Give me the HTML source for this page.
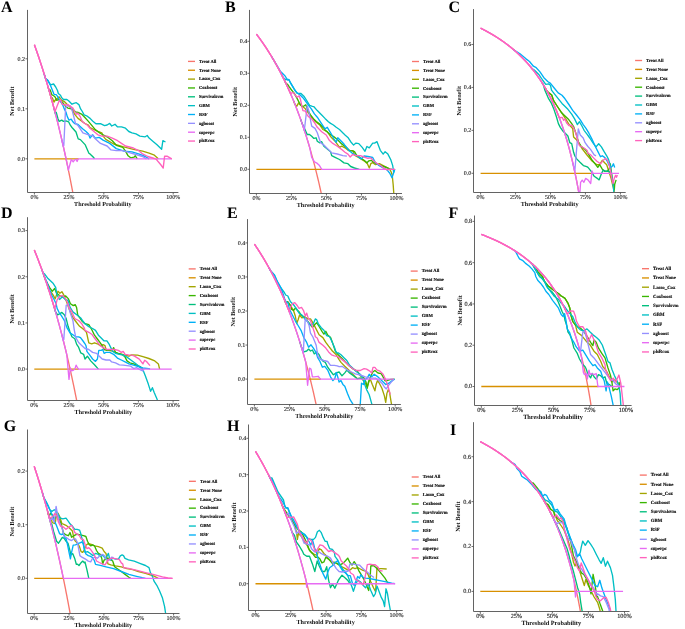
<!DOCTYPE html>
<html><head><meta charset="utf-8"><style>
html,body{margin:0;padding:0;background:#fff;}
svg{display:block;text-rendering:geometricPrecision;}
svg{will-change:transform;}
.pl{font-family:"Liberation Serif",serif;font-weight:bold;font-size:16px;fill:#000;}
.tl{font-family:"Liberation Serif",serif;fill:#222;stroke:#222;stroke-width:0.12px;}
.at{font-family:"Liberation Serif",serif;font-weight:bold;font-size:1.017em;fill:#111;}
.lg{font-family:"Liberation Serif",serif;font-weight:bold;font-size:4.6px;fill:#111;stroke:#111;stroke-width:0.15px;}
.ax{fill:none;stroke:#636363;stroke-width:1;stroke-linejoin:miter;stroke-linecap:butt;}
.tk{fill:none;stroke:#4a4a4a;stroke-width:0.8;}
</style></head><body>
<svg width="685" height="629" viewBox="0 0 685 629">
<rect width="685" height="629" fill="#fff"/>
<clipPath id="cA"><rect x="27.2" y="4.9" width="156.2" height="187.3"/></clipPath>
<text x="1" y="11.8" class="pl">A</text>
<g clip-path="url(#cA)">
<polyline points="34.4,44.8 34.88,46.15 35.37,47.51 35.85,48.88 36.34,50.26 36.82,51.65 37.3,53.05 37.79,54.46 38.27,55.88 38.76,57.31 39.24,58.75 39.73,60.2 40.21,61.66 40.69,63.13 41.18,64.62 41.66,66.11 42.15,67.62 42.63,69.13 43.11,70.66 43.6,72.2 44.08,73.75 44.57,75.31 45.05,76.88 45.54,78.47 46.02,80.07 46.5,81.68 46.99,83.3 47.47,84.93 47.96,86.58 48.44,88.24 48.92,89.91 49.41,91.6 49.89,93.3 50.38,95.01 50.86,96.74 51.34,98.48 51.83,100.23 52.31,102 52.8,103.78 53.28,105.58 53.77,107.39 54.25,109.21 54.73,111.05 55.22,112.91 55.7,114.78 56.19,116.67 56.67,118.57 57.15,120.49 57.64,122.42 58.12,124.37 58.61,126.34 59.09,128.32 59.58,130.32 60.06,132.34 60.54,134.38 61.03,136.43 61.51,138.5 62,140.59 62.48,142.7 62.96,144.82 63.45,146.96 63.93,149.13 64.42,151.31 64.9,153.51 65.39,155.73 65.87,157.97 66.35,160.24 66.84,162.52 67.32,164.82 67.81,167.15 68.29,169.49 68.77,171.86 69.26,174.25 69.74,176.66 70.23,179.1 70.71,181.55 71.19,184.04 71.68,186.54 72.16,189.07 72.65,191.62 73.13,194.2" fill="none" stroke="#F8766D" stroke-width="1.35" stroke-linejoin="round" />
<polyline points="34.4,158.8 78.7,158.8" fill="none" stroke="#D89000" stroke-width="1.35" stroke-linejoin="round" />
<polyline points="50,93.68 50.75,96.34 51.5,99.04 52.3,97.8 54,102 55.7,99.5 57.5,98.2 59.2,96.9 60.9,99.5 64.3,101.6 67.8,105 71.2,108.1 74.6,114.1 78,118.4 81.5,120.9 84.9,123.5 88.4,125.2 90,127.6 97.9,131.5 101.8,132.8 103.1,136.1 105.8,139.4 113.7,144 122.8,146.6 133.4,149.3 142.6,151.2 149.1,153.2 154.4,155.2 158.3,158.8" fill="none" stroke="#A3A500" stroke-width="1.35" stroke-linejoin="round" />
<polyline points="48,86.73 48.75,89.31 49.5,91.92 50.2,90 51.9,94.7 54,96 55.3,97.3 56.6,100.3 58.7,99.5 60.5,100.3 63,102.9 65.2,105.9 67.8,108.1 70.3,108.5 72.9,109.3 75.5,111.9 78,112.3 81.5,114.1 84.9,117.5 88.4,121.4 90.9,124.4 95.3,129.6 100.5,133.5 107.1,136.8 112.3,140.7 116.3,145.3 122.8,147.3 125.5,151.2 128.1,155.8 130.7,157.8 134,157.2 135.3,155.8 137.3,158.8" fill="none" stroke="#39B600" stroke-width="1.35" stroke-linejoin="round" />
<polyline points="54,108.27 54.75,111.12 55.5,114 56.2,112.3 57.9,118.4 59.2,121.4 61.7,120.1 63.5,121.4 66,120.9 68.6,121.8 70.3,125.2 72,127.5 76,132 78.2,138.9 80.4,139.6 85.3,144.9 88.9,153.2 90,153.9 93.9,157.8 94.5,158.8" fill="none" stroke="#00BF7D" stroke-width="1.35" stroke-linejoin="round" />
<polyline points="44,73.48 44.75,75.9 45.5,78.35 48,80.6 50.6,84.9 53.6,84 55.7,87 57.5,90.5 58.3,93.5 60.5,95.2 61.7,97.8 63.5,99.5 66.9,99.5 68.6,100.8 72,104.2 73.8,103.3 76.3,102.7 78.9,104.6 80.6,108.9 82.3,111.5 84.1,114.9 86.6,115.8 90.1,118.4 92.6,121 95.9,123.7 100.5,123.7 104.5,125.6 107.1,125 109.7,123.4 111.7,126 115,124.3 117.6,126.9 121.5,126.9 125.5,128.2 128.8,131.5 132,132.8 136,133.9 139.9,136.1 145.2,136.8 147.2,135.5 149.1,138.1 153.1,141.4 157,144.7 161.6,149.3 162.9,140.7 165.5,142" fill="none" stroke="#00BFC4" stroke-width="1.35" stroke-linejoin="round" />
<polyline points="44.3,74.45 45.05,76.88 45.8,79.34 47.5,80 50.6,85.7 52.3,90 54,94.3 56.2,94.7 57.9,96.9 59.2,99.5 60.5,101.6 62.6,104.6 64.3,108.9 66,112.3 67.3,116.6 69,120.1 71.2,119.2 72.9,121.8 74.6,123.5 78,124.4 82.6,128.7 86,131.5 88.5,134 90,138.1 92.6,134.8 95.3,138.1 99.2,137.4 103.1,140.1 109.7,143.4 116.3,148.6 124.2,151.2 132,151.9 138.6,153.9 145.2,156.5 149.1,158.8" fill="none" stroke="#00B0F6" stroke-width="1.35" stroke-linejoin="round" />
<polyline points="61.8,139.74 62.55,143 63.3,146.31 63.8,145.5 65.6,107.9 66.5,106.3 67.8,105.5 70.3,105.9 72,109.8 73.8,116.6 75.5,123.5 78.2,125.8 82.9,132.9 90.1,135.3 92.6,135.5 95.3,138.8 100.5,143.4 107.1,146 111,149.9 116.3,150.6 122.8,150.6 129.4,152.6 136,154.5 142.6,156.5 146.5,158.8" fill="none" stroke="#9590FF" stroke-width="1.35" stroke-linejoin="round" />
<polyline points="34.4,44.8 35.53,47.98 36.67,51.21 37.8,54.49 38.93,57.83 40.07,61.23 41.2,64.68 42.33,68.2 43.47,71.78 44.6,75.42 45.73,79.12 46.87,82.89 48,86.73 49.13,90.64 50.27,94.62 51.4,98.68 52.53,102.81 53.67,107.02 54.8,111.31 55.93,115.68 57.07,120.14 58.2,124.69 59.33,129.32 60.47,134.05 61.6,138.88 62.73,143.8 63.87,148.83 65,153.96 66.13,159.21 67.27,164.56 68.4,170.03 71.3,159.5 73.2,161.9 74.5,160 76,159.3 77.1,161.5 78.2,158.8 171.81,158.8" fill="none" stroke="#E76BF3" stroke-width="1.35" stroke-linejoin="round" />
<polyline points="34.4,44.8 35.08,46.71 35.77,48.64 36.45,50.59 37.13,52.55 37.82,54.54 38.5,56.55 39.18,58.58 39.87,60.63 40.55,62.7 41.23,64.79 41.92,66.9 42.6,69.04 43.28,71.19 43.97,73.37 44.65,75.58 45.33,77.81 46.02,80.06 46.7,82.33 47.38,84.63 48.07,86.96 48.75,89.31 49.43,91.69 50.12,94.09 50.8,96.52 51.48,98.98 52.17,101.46 52.85,103.97 53.53,106.52 54.22,109.09 54.9,111.69 57,106.3 58.7,102 60.5,99.5 62.2,104.2 64.7,105 67.8,104.6 70.3,106.3 72.9,108.1 74.6,111.5 76.3,114.1 78,113.2 80.2,116.6 82.3,121.8 84.9,123.5 87.5,125.2 90,128.2 97.9,134.8 101.8,136.1 107.1,136.1 112.3,138.1 117.6,140.7 121.5,143.4 125.5,146 133.4,148 138.6,150.6 142.6,153.9 147.8,156.5 154.4,158.5 156.5,159.5 158.3,161.8 161,165 163.2,168.1 164.6,156.2 167,156.2 171.8,158.8" fill="none" stroke="#FF62BC" stroke-width="1.35" stroke-linejoin="round" />
</g>
<g style="font-size:5.98px">
<path d="M27.5 9.9V192.5H178.4" class="ax"/>
<path d="M25.5 158.8H27.5" class="tk"/>
<text x="25" y="160.7" class="tl" text-anchor="end">0.0</text>
<path d="M25.5 108.8H27.5" class="tk"/>
<text x="25" y="110.7" class="tl" text-anchor="end">0.1</text>
<path d="M25.5 58.8H27.5" class="tk"/>
<text x="25" y="60.7" class="tl" text-anchor="end">0.2</text>
<path d="M34.4 192.5V194.5" class="tk"/>
<text x="34.4" y="198.7" class="tl" text-anchor="middle">0%</text>
<path d="M69.1 192.5V194.5" class="tk"/>
<text x="69.1" y="198.7" class="tl" text-anchor="middle">25%</text>
<path d="M103.8 192.5V194.5" class="tk"/>
<text x="103.8" y="198.7" class="tl" text-anchor="middle">50%</text>
<path d="M138.5 192.5V194.5" class="tk"/>
<text x="138.5" y="198.7" class="tl" text-anchor="middle">75%</text>
<path d="M173.2 192.5V194.5" class="tk"/>
<text x="173.2" y="198.7" class="tl" text-anchor="middle">100%</text>
<text x="102.8" y="205.9" class="at" text-anchor="middle">Threshold Probability</text>
<text x="14.4" y="101.05" class="at" text-anchor="middle" transform="rotate(-90 14.4 101.05)">Net Benefit</text>
</g>
<path d="M188 61.4H195" stroke="#F8766D" stroke-width="1.35"/>
<text x="199" y="62.7" class="lg" style="font-size:4.59px">Treat All</text>
<path d="M188 70.25H195" stroke="#D89000" stroke-width="1.35"/>
<text x="199" y="71.55" class="lg" style="font-size:4.59px">Treat None</text>
<path d="M188 79.1H195" stroke="#A3A500" stroke-width="1.35"/>
<text x="199" y="80.4" class="lg" style="font-size:4.59px">Lasso_Cox</text>
<path d="M188 87.95H195" stroke="#39B600" stroke-width="1.35"/>
<text x="199" y="89.25" class="lg" style="font-size:4.59px">Coxboost</text>
<path d="M188 96.8H195" stroke="#00BF7D" stroke-width="1.35"/>
<text x="199" y="98.1" class="lg" style="font-size:4.59px">Survivalsvm</text>
<path d="M188 105.65H195" stroke="#00BFC4" stroke-width="1.35"/>
<text x="199" y="106.95" class="lg" style="font-size:4.59px">GBM</text>
<path d="M188 114.5H195" stroke="#00B0F6" stroke-width="1.35"/>
<text x="199" y="115.8" class="lg" style="font-size:4.59px">RSF</text>
<path d="M188 123.35H195" stroke="#9590FF" stroke-width="1.35"/>
<text x="199" y="124.65" class="lg" style="font-size:4.59px">xgboost</text>
<path d="M188 132.2H195" stroke="#E76BF3" stroke-width="1.35"/>
<text x="199" y="133.5" class="lg" style="font-size:4.59px">superpc</text>
<path d="M188 141.05H195" stroke="#FF62BC" stroke-width="1.35"/>
<text x="199" y="142.35" class="lg" style="font-size:4.59px">plsRcox</text>
<clipPath id="cB"><rect x="249.4" y="4.9" width="157.6" height="188.5"/></clipPath>
<text x="225" y="11.8" class="pl">B</text>
<g clip-path="url(#cB)">
<polyline points="256.4,34.1 257.22,35.18 258.03,36.28 258.85,37.39 259.66,38.51 260.48,39.64 261.3,40.79 262.11,41.96 262.93,43.13 263.75,44.33 264.56,45.53 265.38,46.75 266.19,47.99 267.01,49.24 267.83,50.51 268.64,51.79 269.46,53.1 270.27,54.41 271.09,55.75 271.91,57.1 272.72,58.47 273.54,59.86 274.36,61.27 275.17,62.69 275.99,64.14 276.8,65.6 277.62,67.09 278.44,68.59 279.25,70.12 280.07,71.67 280.89,73.24 281.7,74.83 282.52,76.44 283.33,78.08 284.15,79.74 284.97,81.43 285.78,83.14 286.6,84.88 287.41,86.64 288.23,88.43 289.05,90.25 289.86,92.09 290.68,93.96 291.5,95.87 292.31,97.8 293.13,99.76 293.94,101.75 294.76,103.78 295.58,105.83 296.39,107.93 297.21,110.05 298.02,112.21 298.84,114.41 299.66,116.64 300.47,118.92 301.29,121.23 302.11,123.58 302.92,125.97 303.74,128.41 304.55,130.88 305.37,133.41 306.19,135.97 307,138.59 307.82,141.25 308.63,143.96 309.45,146.72 310.27,149.54 311.08,152.41 311.9,155.33 312.72,158.31 313.53,161.35 314.35,164.45 315.16,167.62 315.98,170.84 316.8,174.14 317.61,177.5 318.43,180.93 319.25,184.43 320.06,188.01 320.88,191.66 321.69,195.4" fill="none" stroke="#F8766D" stroke-width="1.35" stroke-linejoin="round" />
<polyline points="256.4,169.3 322.2,169.3" fill="none" stroke="#D89000" stroke-width="1.35" stroke-linejoin="round" />
<polyline points="293.5,100.66 294.25,102.51 295,104.38 296.7,106.3 298.6,102.9 300,104.8 302.9,106.7 304.8,108.2 310.5,115.8 315.3,121.5 320.1,125.3 322.8,129.5 327.3,131.7 329.5,135 331.7,137.8 335.1,141.2 339.5,147.3 341.7,146.2 345.1,147.8 348.4,150.6 352.9,150.6 354.5,155.1 359.3,157.9 364.1,160.8 367.4,163.7 369.3,168 370.8,163.7 372.7,162.7 375.5,164.6 379.4,163.7 383.2,165.6 387,167.5 389.8,169.4 391.3,172.3 392.2,175 393.2,185 393.9,195" fill="none" stroke="#A3A500" stroke-width="1.35" stroke-linejoin="round" />
<polyline points="284.4,80.26 285.15,81.81 285.9,83.39 287.6,84.3 289.1,86.7 291.5,90 294.3,93.4 297.2,98.6 299.1,102.4 301.9,106.7 304.3,105.8 305.8,104.8 307.7,110.1 310.5,114.8 313.4,118.7 316.3,121.5 320.1,124.4 323.9,128.2 325,130 329.5,133.9 334,136.7 337.3,139.5 341.7,143.9 346.2,147.3 349.8,150.8 352.6,150.8 354.5,151.7 356.5,155.1 360.3,157.9 364.1,160.3 367,162.7 368.9,160.8 371.2,160.3 373.6,162.2 377.4,164.1 381.3,165.6 385.1,167 389.8,168.9 392,169.3" fill="none" stroke="#39B600" stroke-width="1.35" stroke-linejoin="round" />
<polyline points="300.5,118.99 301.25,121.12 302,123.27 305,129.5 307.2,134.5 309.5,134.5 311.7,136.2 313.9,138.4 316.1,137.8 317.3,141.2 319.5,142.8 321.7,141.7 323.9,146.2 327.3,149 330.6,151.7 331.7,155.6 335.1,157.3 339.5,159.5 344,162.9 347.9,163.7 350.7,166.5 354.5,168 359.3,169.3" fill="none" stroke="#00BF7D" stroke-width="1.35" stroke-linejoin="round" />
<polyline points="281.5,74.43 282.25,75.91 283,77.41 285.7,79.5 288.6,79.5 291.5,84.3 294.3,89.1 297.2,93.4 301,93.4 303.9,96.2 306.7,100.5 309.6,105.3 312.4,106.3 313.9,106.7 317.3,110.6 321.7,115 325,118.4 328.4,121.7 330.6,123.4 333.4,125 336.2,127.3 339.5,129.5 344,133.9 345,135 347.9,137.4 350.7,141.7 353.6,145.1 356,143.1 358.8,143.6 362.2,147.4 365,151.3 366.9,146.5 369.3,147.9 372.7,143.1 374.6,143.1 377,141.7 380.3,150.3 383.2,154.1 385.1,151.7 387.9,154.1 390.8,159.8 392.7,165.6 393.7,172.3 394.6,169.3" fill="none" stroke="#00BFC4" stroke-width="1.35" stroke-linejoin="round" />
<polyline points="271.6,56.59 272.35,57.84 273.1,59.11 280.3,71.2 285.1,76 287.6,80 289,79.6 290.6,83.2 293,87.1 295.4,91.1 297.8,93.5 300,94.8 302.9,97.7 305.8,101.5 308.6,105.3 311.5,109.1 314.4,113.9 317.3,117.2 321.7,123.9 325,128.9 327.3,127.3 330.6,132.8 334,139 336.2,142.3 337.8,137.8 340.6,140.6 344,144 345,145.5 348.8,150.3 352.6,153.6 357.4,156 361.2,158.9 364.1,156 367.9,156.5 372.7,157.5 375.5,162.7 378.4,165.1 383.2,168 387,169.9 389.8,173.2 392,177.7 394.8,169.3" fill="none" stroke="#00B0F6" stroke-width="1.35" stroke-linejoin="round" />
<polyline points="302.4,124.44 303.15,126.65 303.9,128.89 304.3,130.5 307.2,105.8 308.6,110.1 309.5,115 311.7,126.1 315,128.4 317.3,132.8 320.6,142.8 323.9,145.1 327.3,148.4 331.7,152.9 337.3,154 342.9,155.6 346.9,156.2" fill="none" stroke="#9590FF" stroke-width="1.35" stroke-linejoin="round" />
<polyline points="256.4,34.1 258.18,36.48 259.96,38.92 261.74,41.42 263.52,43.99 265.3,46.64 267.08,49.35 268.86,52.14 270.64,55.01 272.42,57.96 274.2,61 275.98,64.12 277.76,67.34 279.54,70.66 281.32,74.08 283.1,77.61 284.88,81.25 286.66,85.01 288.44,88.89 290.22,92.91 292,97.06 293.78,101.35 295.56,105.79 297.34,110.4 299.12,115.17 300.9,120.12 302.68,125.26 304.46,130.6 306.24,136.14 308.02,141.91 309.8,147.92 311.7,157.3 314.5,161.8 317.3,163.4 319.5,165.6 321.7,169.3 395.1,169.3" fill="none" stroke="#E76BF3" stroke-width="1.35" stroke-linejoin="round" />
<polyline points="256.4,34.1 257.54,35.61 258.67,37.15 259.81,38.71 260.95,40.3 262.08,41.91 263.22,43.56 264.36,45.23 265.49,46.93 266.63,48.66 267.77,50.42 268.9,52.21 270.04,54.03 271.18,55.89 272.31,57.78 273.45,59.71 274.59,61.67 275.72,63.67 276.86,65.7 278,67.78 279.13,69.89 280.27,72.05 281.41,74.25 282.54,76.5 283.68,78.78 284.82,81.12 285.95,83.5 287.09,85.94 288.23,88.42 289.36,90.96 290.5,93.55 292.9,92.4 295.3,95.3 297.2,97.2 299.1,95.8 300.5,99.6 301.9,106.3 302.9,110.6 305.3,111 307.2,114.8 308.6,116.8 311.5,118.7 314.4,122.5 317.3,127.3 321.7,131.7 326.2,135 329.5,140.6 332.8,143.4 337.3,146.2 341.7,149.5 345,152.2 347.9,154.1 350.2,157 352.6,154.6 356.5,155.6 360.3,155.6 364.1,157 367.9,158.4 370.8,157.9 373.6,160.8 377.4,163.7 381.3,166 384.1,168.4 387,169.9 389.8,169.3 395.1,169.3" fill="none" stroke="#FF62BC" stroke-width="1.35" stroke-linejoin="round" />
</g>
<g style="font-size:6.04px">
<path d="M249.5 9.9V193.5H402" class="ax"/>
<path d="M247.5 169.3H249.5" class="tk"/>
<text x="247.2" y="171.2" class="tl" text-anchor="end">0.0</text>
<path d="M247.5 137.3H249.5" class="tk"/>
<text x="247.2" y="139.2" class="tl" text-anchor="end">0.1</text>
<path d="M247.5 105.3H249.5" class="tk"/>
<text x="247.2" y="107.2" class="tl" text-anchor="end">0.2</text>
<path d="M247.5 73.3H249.5" class="tk"/>
<text x="247.2" y="75.2" class="tl" text-anchor="end">0.3</text>
<path d="M247.5 41.3H249.5" class="tk"/>
<text x="247.2" y="43.2" class="tl" text-anchor="end">0.4</text>
<path d="M256.4 193.5V195.5" class="tk"/>
<text x="256.4" y="199.9" class="tl" text-anchor="middle">0%</text>
<path d="M291.42 193.5V195.5" class="tk"/>
<text x="291.42" y="199.9" class="tl" text-anchor="middle">25%</text>
<path d="M326.45 193.5V195.5" class="tk"/>
<text x="326.45" y="199.9" class="tl" text-anchor="middle">50%</text>
<path d="M361.47 193.5V195.5" class="tk"/>
<text x="361.47" y="199.9" class="tl" text-anchor="middle">75%</text>
<path d="M396.5 193.5V195.5" class="tk"/>
<text x="396.5" y="199.9" class="tl" text-anchor="middle">100%</text>
<text x="325.7" y="207.1" class="at" text-anchor="middle">Threshold Probability</text>
<text x="236.6" y="101.65" class="at" text-anchor="middle" transform="rotate(-90 236.6 101.65)">Net Benefit</text>
</g>
<path d="M412 61.5H419" stroke="#F8766D" stroke-width="1.35"/>
<text x="423" y="62.8" class="lg" style="font-size:4.62px">Treat All</text>
<path d="M412 70.4H419" stroke="#D89000" stroke-width="1.35"/>
<text x="423" y="71.7" class="lg" style="font-size:4.62px">Treat None</text>
<path d="M412 79.3H419" stroke="#A3A500" stroke-width="1.35"/>
<text x="423" y="80.6" class="lg" style="font-size:4.62px">Lasso_Cox</text>
<path d="M412 88.2H419" stroke="#39B600" stroke-width="1.35"/>
<text x="423" y="89.5" class="lg" style="font-size:4.62px">Coxboost</text>
<path d="M412 97.1H419" stroke="#00BF7D" stroke-width="1.35"/>
<text x="423" y="98.4" class="lg" style="font-size:4.62px">Survivalsvm</text>
<path d="M412 106H419" stroke="#00BFC4" stroke-width="1.35"/>
<text x="423" y="107.3" class="lg" style="font-size:4.62px">GBM</text>
<path d="M412 114.9H419" stroke="#00B0F6" stroke-width="1.35"/>
<text x="423" y="116.2" class="lg" style="font-size:4.62px">RSF</text>
<path d="M412 123.8H419" stroke="#9590FF" stroke-width="1.35"/>
<text x="423" y="125.1" class="lg" style="font-size:4.62px">xgboost</text>
<path d="M412 132.7H419" stroke="#E76BF3" stroke-width="1.35"/>
<text x="423" y="134" class="lg" style="font-size:4.62px">superpc</text>
<path d="M412 141.6H419" stroke="#FF62BC" stroke-width="1.35"/>
<text x="423" y="142.9" class="lg" style="font-size:4.62px">plsRcox</text>
<clipPath id="cC"><rect x="473.4" y="4.1" width="157.3" height="188.1"/></clipPath>
<text x="448.5" y="12" class="pl">C</text>
<g clip-path="url(#cC)">
<polyline points="480.6,28.16 481.83,28.78 483.06,29.41 484.29,30.05 485.53,30.7 486.76,31.37 487.99,32.04 489.22,32.73 490.45,33.44 491.68,34.15 492.92,34.88 494.15,35.63 495.38,36.39 496.61,37.16 497.84,37.95 499.07,38.75 500.3,39.58 501.54,40.42 502.77,41.27 504,42.15 505.23,43.04 506.46,43.95 507.69,44.89 508.93,45.84 510.16,46.81 511.39,47.81 512.62,48.83 513.85,49.87 515.08,50.94 516.31,52.03 517.55,53.15 518.78,54.3 520.01,55.47 521.24,56.67 522.47,57.91 523.7,59.17 524.94,60.47 526.17,61.8 527.4,63.17 528.63,64.57 529.86,66.01 531.09,67.49 532.32,69.02 533.56,70.58 534.79,72.19 536.02,73.85 537.25,75.56 538.48,77.32 539.71,79.13 540.95,81 542.18,82.92 543.41,84.91 544.64,86.96 545.87,89.09 547.1,91.28 548.33,93.55 549.57,95.89 550.8,98.32 552.03,100.84 553.26,103.45 554.49,106.15 555.72,108.96 556.96,111.88 558.19,114.92 559.42,118.07 560.65,121.36 561.88,124.78 563.11,128.36 564.34,132.09 565.58,135.98 566.81,140.06 568.04,144.33 569.27,148.8 570.5,153.5 571.73,158.43 572.97,163.62 574.2,169.08 575.43,174.84 576.66,180.93 577.89,187.37 579.12,194.2" fill="none" stroke="#F8766D" stroke-width="1.35" stroke-linejoin="round" />
<polyline points="480.6,173.3 593.4,173.3" fill="none" stroke="#D89000" stroke-width="1.35" stroke-linejoin="round" />
<polyline points="545.5,88.44 546.25,89.75 547,91.09 551.7,95 553.6,100.7 557.4,106.5 561.2,112.2 565,117.9 569.8,125.5 572.7,128.4 573.6,137 576.5,139.8 578.4,142.7 582,148.5 587,155 592.3,161.2 596.9,164.7 599.6,164.7 602.3,160.3 604.9,163 606.7,164.7 608.4,170.1 611,178 613.4,188 614.7,194" fill="none" stroke="#A3A500" stroke-width="1.35" stroke-linejoin="round" />
<polyline points="546,89.31 546.75,90.64 547.5,92 551.7,95 553.6,100.7 557.4,106.5 561.2,112.2 565,116 568.9,119.8 571.7,123.6 573.6,126.5 576.5,135.1 578.4,141.8 581.3,146.5 585.1,149.4 587.9,153.2 591.6,159.4 595.1,163.8 597.8,167.4 599.6,164.7 602.3,169.2 604.9,171.4 607.6,171 609.4,168.3 610.3,163.8 611.6,173.7 613.8,187.9 614.3,190 614.7,184.3 616.1,179.9" fill="none" stroke="#39B600" stroke-width="1.35" stroke-linejoin="round" />
<polyline points="542,82.64 542.75,83.84 543.5,85.06 544.8,90.1 548.6,98.7 551.5,103.4 553.6,108.4 556.5,117 558.4,123.6 560.3,127.4 563.1,131.3 566,134.1 567.9,136 569.8,142.7 571.7,143.7 573.6,152.3 574.6,155.3 576.7,158.9 580,162.3 583.4,165.6 586.7,166.7 588,167.4 591.6,171.9 594.2,176.3 596.9,178.1 599.1,179.9 601.4,173.7 603.2,170.1 605.8,171.4 608.5,171 611.2,173.3" fill="none" stroke="#00BF7D" stroke-width="1.35" stroke-linejoin="round" />
<polyline points="530.5,66.77 531.25,67.68 532,68.61 534.3,70 539.1,74.8 542.9,80.5 545.8,84.4 548.6,83.9 550.5,85.3 551.5,90.1 554.4,93.9 558.2,98.7 562,103.4 564.1,105.5 567.9,109.3 571.7,114.1 574.6,118.9 577.4,124.6 579.4,121.7 582.2,126.5 584.1,130.3 587,134.1 589.8,138 593.3,143.3 596,146.9 598.7,143.8 601.4,146.9 604,151.4 606.7,155.8 608.5,159.4 609.8,163.8 610.7,170.1 612.1,178.1 613.4,187 614,194" fill="none" stroke="#00BFC4" stroke-width="1.35" stroke-linejoin="round" />
<polyline points="513,49.15 513.75,49.78 514.5,50.43 520,53.8 525.7,58.6 529.5,61.5 533.4,66.2 536.2,67.7 540,71.9 543.9,77.7 547.7,81.5 550.5,83.4 554.4,88.2 558.2,92.9 562,95.3 565,98.8 568.9,104.5 572.7,110.3 576.5,115 580.3,119.8 583.2,124.6 586,128.4 588.9,133.2 591.8,138.9 595.1,146 597.8,151.4 600.5,156.7 602.3,155.8 604.9,157.6 607.2,161.2 609.4,165.6 610.7,167.4 612.1,166.5 613.4,163.8 614.7,167.4" fill="none" stroke="#00B0F6" stroke-width="1.35" stroke-linejoin="round" />
<polyline points="572.8,162.9 573.55,166.17 574.3,169.55 574.8,171 578.3,129 580.3,135.1 583.2,137.9 585.1,142.7 587.9,146.5 590.7,149.6 592.5,152.3 594.2,154.9 596,155.8" fill="none" stroke="#9590FF" stroke-width="1.35" stroke-linejoin="round" />
<polyline points="480.6,28.16 483.9,29.84 487.2,31.61 490.5,33.46 493.8,35.42 497.1,37.47 500.4,39.64 503.7,41.93 507,44.36 510.3,46.93 513.6,49.66 516.9,52.56 520.2,55.65 523.5,58.96 526.8,62.5 530.1,66.3 533.4,70.38 536.7,74.79 540,79.56 543.3,84.73 546.6,90.37 549.9,96.54 553.2,103.32 556.5,110.79 559.8,119.08 563.1,128.32 566.4,138.69 569.7,150.41 573,163.77 576.3,179.12 579.6,196.95 580.6,182.3 582.2,180.1 583.9,182.3 585.6,178.4 588,179.9 590.7,183.5 592,171 592.9,173.3 619,173.3" fill="none" stroke="#E76BF3" stroke-width="1.35" stroke-linejoin="round" />
<polyline points="480.6,28.16 483.22,29.49 485.85,30.88 488.47,32.31 491.09,33.81 493.72,35.37 496.34,36.99 498.96,38.68 501.59,40.45 504.21,42.3 506.83,44.23 509.46,46.26 512.08,48.38 514.7,50.61 517.33,52.95 519.95,55.41 522.57,58.01 525.2,60.75 527.82,63.64 530.44,66.71 533.07,69.95 535.69,73.4 538.31,77.07 540.94,80.98 543.56,85.16 546.18,89.63 548.81,94.43 551.43,99.6 554.05,105.18 556.68,111.21 559.3,117.76 562.2,117.4 563.6,120.3 565,118.9 566.5,122.7 568.9,125.5 571.7,125.1 573.6,127.9 575.5,132.2 577.4,138.9 579.4,145.6 583.2,147.5 587,150.3 588,153.2 590.7,154.9 593.3,157.6 596.9,161.2 600.5,163.8 603.2,160.3 605.4,158.5 607.2,159.8 608.9,163.8 610.3,170.1 611.6,177.2 613,183.5 614.3,178.1 615.6,175.4 616.5,177.2 617.4,175" fill="none" stroke="#FF62BC" stroke-width="1.35" stroke-linejoin="round" />
</g>
<g style="font-size:6.03px">
<path d="M473.5 9.1V192.5H625.7" class="ax"/>
<path d="M471.5 173.3H473.5" class="tk"/>
<text x="471.2" y="175.2" class="tl" text-anchor="end">0.0</text>
<path d="M471.5 130.36H473.5" class="tk"/>
<text x="471.2" y="132.26" class="tl" text-anchor="end">0.2</text>
<path d="M471.5 87.42H473.5" class="tk"/>
<text x="471.2" y="89.32" class="tl" text-anchor="end">0.4</text>
<path d="M471.5 44.48H473.5" class="tk"/>
<text x="471.2" y="46.38" class="tl" text-anchor="end">0.6</text>
<path d="M480.6 192.5V194.5" class="tk"/>
<text x="480.6" y="198.7" class="tl" text-anchor="middle">0%</text>
<path d="M515.55 192.5V194.5" class="tk"/>
<text x="515.55" y="198.7" class="tl" text-anchor="middle">25%</text>
<path d="M550.5 192.5V194.5" class="tk"/>
<text x="550.5" y="198.7" class="tl" text-anchor="middle">50%</text>
<path d="M585.45 192.5V194.5" class="tk"/>
<text x="585.45" y="198.7" class="tl" text-anchor="middle">75%</text>
<path d="M620.4 192.5V194.5" class="tk"/>
<text x="620.4" y="198.7" class="tl" text-anchor="middle">100%</text>
<text x="549.55" y="205.9" class="at" text-anchor="middle">Threshold Probability</text>
<text x="460.6" y="100.65" class="at" text-anchor="middle" transform="rotate(-90 460.6 100.65)">Net Benefit</text>
</g>
<path d="M635.1 60.5H642.1" stroke="#F8766D" stroke-width="1.35"/>
<text x="646.1" y="61.8" class="lg" style="font-size:4.62px">Treat All</text>
<path d="M635.1 69.4H642.1" stroke="#D89000" stroke-width="1.35"/>
<text x="646.1" y="70.7" class="lg" style="font-size:4.62px">Treat None</text>
<path d="M635.1 78.3H642.1" stroke="#A3A500" stroke-width="1.35"/>
<text x="646.1" y="79.6" class="lg" style="font-size:4.62px">Lasso_Cox</text>
<path d="M635.1 87.2H642.1" stroke="#39B600" stroke-width="1.35"/>
<text x="646.1" y="88.5" class="lg" style="font-size:4.62px">Coxboost</text>
<path d="M635.1 96.1H642.1" stroke="#00BF7D" stroke-width="1.35"/>
<text x="646.1" y="97.4" class="lg" style="font-size:4.62px">Survivalsvm</text>
<path d="M635.1 105H642.1" stroke="#00BFC4" stroke-width="1.35"/>
<text x="646.1" y="106.3" class="lg" style="font-size:4.62px">GBM</text>
<path d="M635.1 113.9H642.1" stroke="#00B0F6" stroke-width="1.35"/>
<text x="646.1" y="115.2" class="lg" style="font-size:4.62px">RSF</text>
<path d="M635.1 122.8H642.1" stroke="#9590FF" stroke-width="1.35"/>
<text x="646.1" y="124.1" class="lg" style="font-size:4.62px">xgboost</text>
<path d="M635.1 131.7H642.1" stroke="#E76BF3" stroke-width="1.35"/>
<text x="646.1" y="133" class="lg" style="font-size:4.62px">superpc</text>
<path d="M635.1 140.6H642.1" stroke="#FF62BC" stroke-width="1.35"/>
<text x="646.1" y="141.9" class="lg" style="font-size:4.62px">plsRcox</text>
<clipPath id="cD"><rect x="27.3" y="212.2" width="157" height="188.2"/></clipPath>
<text x="1" y="217.9" class="pl">D</text>
<g clip-path="url(#cD)">
<polyline points="34.3,249.98 34.83,251.31 35.37,252.64 35.9,253.98 36.44,255.34 36.97,256.7 37.51,258.08 38.04,259.47 38.57,260.87 39.11,262.27 39.64,263.7 40.18,265.13 40.71,266.57 41.25,268.03 41.78,269.49 42.31,270.97 42.85,272.46 43.38,273.97 43.92,275.48 44.45,277.01 44.98,278.55 45.52,280.11 46.05,281.67 46.59,283.25 47.12,284.85 47.66,286.46 48.19,288.08 48.72,289.71 49.26,291.36 49.79,293.02 50.33,294.7 50.86,296.4 51.4,298.1 51.93,299.83 52.46,301.56 53,303.32 53.53,305.09 54.07,306.87 54.6,308.67 55.14,310.49 55.67,312.32 56.2,314.17 56.74,316.04 57.27,317.93 57.81,319.83 58.34,321.75 58.87,323.69 59.41,325.64 59.94,327.62 60.48,329.61 61.01,331.62 61.55,333.65 62.08,335.7 62.61,337.78 63.15,339.87 63.68,341.98 64.22,344.11 64.75,346.26 65.29,348.44 65.82,350.63 66.35,352.85 66.89,355.09 67.42,357.36 67.96,359.64 68.49,361.95 69.03,364.29 69.56,366.64 70.09,369.03 70.63,371.43 71.16,373.86 71.7,376.32 72.23,378.8 72.76,381.31 73.3,383.85 73.83,386.42 74.37,389.01 74.9,391.63 75.44,394.28 75.97,396.95 76.5,399.66 77.04,402.4" fill="none" stroke="#F8766D" stroke-width="1.35" stroke-linejoin="round" />
<polyline points="34.3,369.1 78.8,369.1" fill="none" stroke="#D89000" stroke-width="1.35" stroke-linejoin="round" />
<polyline points="47.5,285.99 48.25,288.26 49,290.56 51,292 53.7,296 55.2,298.9 57.1,293.2 58,291.3 59.9,293.2 61.9,291.7 63.3,294.1 64.7,297 66.6,301.8 69.1,309.1 72.9,317.7 75.8,321.5 79.6,326.3 83.4,329.1 86.3,332 86.9,334.2 88.8,342.8 91.7,343.8 94.5,342.8 97.4,343.8 100.3,345.7 103.1,344.7 105,345.7 106,349.5 108.9,350.4 113.6,351.4 117.4,353.3 121.3,354.3 125.1,355.2 128.9,356.2 131.6,354.9 137.5,355.2 142.9,356.7 148.9,358.5 154.8,360.9 158.4,363.9 159.6,369.1" fill="none" stroke="#A3A500" stroke-width="1.35" stroke-linejoin="round" />
<polyline points="44,275.72 44.75,277.87 45.5,280.05 46.6,281.7 49.5,287.4 52.3,291.3 54.7,288.4 56.6,293.2 59,295.1 62.8,297 65.7,296 68.5,298.9 70.4,303.7 73.3,305.6 75.2,304.6 76.6,307.5 77.7,314.8 79.6,317.7 82.4,321.5 85,323.7 88.8,324.7 91.7,329.5 94.5,335.2 97.4,339 100.3,342.8 102.2,345.7 104.1,349.5 106.9,350.4 109.8,350.4 112.7,349.5 113.6,347.6 115.5,352.4 118.4,353.3 122.2,354.3 125.1,357.1 127,360.9 129.8,362.8 133.7,363.8 137.5,365.7 140.3,366.7 143,369.1" fill="none" stroke="#39B600" stroke-width="1.35" stroke-linejoin="round" />
<polyline points="54,306.65 54.75,309.18 55.5,311.74 57.6,314.8 59.5,313.9 61.9,312.4 64.3,314.8 66.2,318.6 68.1,326.3 70,332 71.9,336.8 74.8,338.7 76.7,344.4 78.6,347.2 80.8,352.9 82.2,353.6 83.6,354.3 85,359 87.4,356.2 90.7,360.9 94.5,364.8 98.4,369.1" fill="none" stroke="#00BF7D" stroke-width="1.35" stroke-linejoin="round" />
<polyline points="41.5,268.72 42.25,270.8 43,272.89 44.7,274.1 47.5,277.9 50.4,280.8 53.3,283.6 55.7,287.4 56.6,293.2 57.6,296 59.5,299.5 62.4,296.7 65.3,299.5 68.1,300.5 70,307.2 72.9,311.9 76.7,314.8 80.5,317.7 82.4,320.5 85,323.7 88.8,326.6 92.6,328.5 95.5,330.4 98.4,335.2 101.2,338 104.1,340.9 106.9,340.9 108.9,343.8 110.8,347.6 112.7,351.4 115.5,353.3 119.4,354.3 123.2,355.2 127,357.1 130.8,360 134.6,362.8 138.4,365.7 141.3,368.6 142.9,369.8 145.3,375.8 148.3,384.1 150.6,391.3 152.4,387.7 154.2,392.5 157.2,399.6 157.6,402" fill="none" stroke="#00BFC4" stroke-width="1.35" stroke-linejoin="round" />
<polyline points="42.5,271.49 43.25,273.59 44,275.72 46,280 48.5,286.5 51.4,294.5 54.2,299.8 56.1,303.7 57.1,308.4 59,312.3 61.5,315.8 64.3,320.5 67.2,328.2 70,332.9 72.9,334.8 75.8,336.8 78.6,336.8 80.5,337.7 83.4,341.5 85,343.8 86,345.7 86.9,351.4 89.8,355.2 92.6,359 95.5,361.4 97.4,359 98.8,350.4 101.2,350.4 102.7,349.5 104.1,353.3 106,352.4 109.8,352.4 113.6,354.3 117.4,358.1 121.3,360 125.1,361.9 128.9,363.8 132.7,364.8 136.9,366.2 142.9,368 148.9,368.6 150,369.1" fill="none" stroke="#00B0F6" stroke-width="1.35" stroke-linejoin="round" />
<polyline points="61.8,334.63 62.55,337.52 63.3,340.46 63.8,339.5 66.2,305.3 68.1,304.3 70,312 72.9,320.5 74.3,330.1 75.8,337.7 78.6,342.5 81.5,345.3 85,348.5 88.8,349.5 92.6,352.4 96.5,353.3 99.3,356.2 102.2,359 106,360 109.8,360 111.7,361.9 115.5,362.8 119.4,364.8 123.2,365.2 127,365.7 130.8,366.2 133.7,368.6 136.5,367.6 140.5,369.8 142.9,371 144,369.1" fill="none" stroke="#9590FF" stroke-width="1.35" stroke-linejoin="round" />
<polyline points="34.3,249.98 35.38,252.68 36.47,255.41 37.55,258.2 38.63,261.02 39.72,263.89 40.8,266.81 41.88,269.78 42.97,272.8 44.05,275.86 45.13,278.98 46.22,282.16 47.3,285.38 48.38,288.67 49.47,292.01 50.55,295.41 51.63,298.87 52.72,302.39 53.8,305.98 54.88,309.63 55.97,313.35 57.05,317.14 58.13,321 59.22,324.94 60.3,328.95 61.38,333.03 62.47,337.2 63.55,341.45 64.63,345.79 65.72,350.21 66.8,354.72 69,379.4 70.4,367.9 71.5,370.8 73.6,370.1 75,368.6 76.1,365.1 77.2,367.2 78.3,369.1 171.71,369.1" fill="none" stroke="#E76BF3" stroke-width="1.35" stroke-linejoin="round" />
<polyline points="34.3,249.98 34.98,251.67 35.66,253.37 36.34,255.09 37.02,256.83 37.7,258.58 38.38,260.36 39.06,262.15 39.74,263.96 40.42,265.78 41.1,267.63 41.78,269.49 42.46,271.38 43.14,273.28 43.82,275.21 44.5,277.15 45.18,279.12 45.86,281.11 46.54,283.11 47.22,285.14 47.9,287.19 48.58,289.27 49.26,291.37 49.94,293.49 50.62,295.63 51.3,297.8 51.98,299.99 52.66,302.2 53.34,304.45 54.02,306.71 54.7,309.01 57.1,299.8 59.9,296 62.8,295.6 65.7,298.9 67.6,302.7 69.5,308.4 71.9,311.9 74.8,318.6 78.6,320.5 81.5,323.4 84.4,328.2 85,330.4 88.8,332.3 91.7,334.2 94.5,338 97.4,341.9 100.3,345.7 103.1,347.6 106.9,349.5 110.8,349.5 114.6,349.5 118.4,350.4 121.3,352.4 123.2,351.4 125.1,354.3 128.6,354.9 131.8,355.2 134.5,356.1 139.3,359.1 142.9,363.9 144.7,360.3 146.5,361.5 150,365.6" fill="none" stroke="#FF62BC" stroke-width="1.35" stroke-linejoin="round" />
</g>
<g style="font-size:5.98px">
<path d="M27.5 217.2V400.5H179.3" class="ax"/>
<path d="M25.5 369.1H27.5" class="tk"/>
<text x="25.1" y="371" class="tl" text-anchor="end">0.0</text>
<path d="M25.5 322.93H27.5" class="tk"/>
<text x="25.1" y="324.83" class="tl" text-anchor="end">0.1</text>
<path d="M25.5 276.76H27.5" class="tk"/>
<text x="25.1" y="278.66" class="tl" text-anchor="end">0.2</text>
<path d="M25.5 230.59H27.5" class="tk"/>
<text x="25.1" y="232.49" class="tl" text-anchor="end">0.3</text>
<path d="M34.3 400.5V402.5" class="tk"/>
<text x="34.3" y="406.9" class="tl" text-anchor="middle">0%</text>
<path d="M69 400.5V402.5" class="tk"/>
<text x="69" y="406.9" class="tl" text-anchor="middle">25%</text>
<path d="M103.7 400.5V402.5" class="tk"/>
<text x="103.7" y="406.9" class="tl" text-anchor="middle">50%</text>
<path d="M138.4 400.5V402.5" class="tk"/>
<text x="138.4" y="406.9" class="tl" text-anchor="middle">75%</text>
<path d="M173.1 400.5V402.5" class="tk"/>
<text x="173.1" y="406.9" class="tl" text-anchor="middle">100%</text>
<text x="103.3" y="414.1" class="at" text-anchor="middle">Threshold Probability</text>
<text x="14.5" y="308.8" class="at" text-anchor="middle" transform="rotate(-90 14.5 308.8)">Net Benefit</text>
</g>
<path d="M188.7 268.9H195.7" stroke="#F8766D" stroke-width="1.35"/>
<text x="199.7" y="270.2" class="lg" style="font-size:4.62px">Treat All</text>
<path d="M188.7 277.8H195.7" stroke="#D89000" stroke-width="1.35"/>
<text x="199.7" y="279.1" class="lg" style="font-size:4.62px">Treat None</text>
<path d="M188.7 286.7H195.7" stroke="#A3A500" stroke-width="1.35"/>
<text x="199.7" y="288" class="lg" style="font-size:4.62px">Lasso_Cox</text>
<path d="M188.7 295.6H195.7" stroke="#39B600" stroke-width="1.35"/>
<text x="199.7" y="296.9" class="lg" style="font-size:4.62px">Coxboost</text>
<path d="M188.7 304.5H195.7" stroke="#00BF7D" stroke-width="1.35"/>
<text x="199.7" y="305.8" class="lg" style="font-size:4.62px">Survivalsvm</text>
<path d="M188.7 313.4H195.7" stroke="#00BFC4" stroke-width="1.35"/>
<text x="199.7" y="314.7" class="lg" style="font-size:4.62px">GBM</text>
<path d="M188.7 322.3H195.7" stroke="#00B0F6" stroke-width="1.35"/>
<text x="199.7" y="323.6" class="lg" style="font-size:4.62px">RSF</text>
<path d="M188.7 331.2H195.7" stroke="#9590FF" stroke-width="1.35"/>
<text x="199.7" y="332.5" class="lg" style="font-size:4.62px">xgboost</text>
<path d="M188.7 340.1H195.7" stroke="#E76BF3" stroke-width="1.35"/>
<text x="199.7" y="341.4" class="lg" style="font-size:4.62px">superpc</text>
<path d="M188.7 349H195.7" stroke="#FF62BC" stroke-width="1.35"/>
<text x="199.7" y="350.3" class="lg" style="font-size:4.62px">plsRcox</text>
<clipPath id="cE"><rect x="247.5" y="214.1" width="158.4" height="190.3"/></clipPath>
<text x="227" y="217.9" class="pl">E</text>
<g clip-path="url(#cE)">
<polyline points="254.4,244.09 255.18,245.23 255.95,246.38 256.73,247.55 257.51,248.73 258.28,249.92 259.06,251.13 259.84,252.35 260.61,253.58 261.39,254.83 262.17,256.09 262.94,257.37 263.72,258.66 264.5,259.97 265.27,261.29 266.05,262.63 266.83,263.98 267.6,265.36 268.38,266.74 269.16,268.15 269.93,269.57 270.71,271.01 271.49,272.47 272.26,273.95 273.04,275.45 273.82,276.96 274.59,278.5 275.37,280.05 276.15,281.63 276.92,283.22 277.7,284.84 278.48,286.48 279.25,288.14 280.03,289.82 280.81,291.53 281.58,293.26 282.36,295.01 283.14,296.79 283.91,298.59 284.69,300.42 285.47,302.27 286.24,304.15 287.02,306.06 287.8,307.99 288.57,309.95 289.35,311.94 290.13,313.96 290.9,316.01 291.68,318.1 292.46,320.21 293.23,322.35 294.01,324.53 294.79,326.74 295.56,328.99 296.34,331.27 297.12,333.59 297.89,335.94 298.67,338.34 299.45,340.77 300.22,343.24 301,345.75 301.78,348.3 302.55,350.9 303.33,353.54 304.11,356.22 304.88,358.96 305.66,361.73 306.44,364.56 307.21,367.44 307.99,370.37 308.77,373.35 309.54,376.38 310.32,379.48 311.1,382.62 311.87,385.83 312.65,389.1 313.43,392.43 314.2,395.82 314.98,399.28 315.76,402.8 316.53,406.4" fill="none" stroke="#F8766D" stroke-width="1.35" stroke-linejoin="round" />
<polyline points="254.4,379.1 321,379.1" fill="none" stroke="#D89000" stroke-width="1.35" stroke-linejoin="round" />
<polyline points="284.5,299.97 285.25,301.75 286,303.56 287.6,301.7 290.5,305.5 293.4,310.3 295.3,316 296.7,323.6 298.1,319.8 299.6,315 301.9,317.9 304.8,316.9 307.7,318.9 310.5,318.9 313.4,323.6 316.3,329.4 319.1,334.8 322.9,337.6 325.8,342.4 328.6,346.2 332.4,351 336.3,354.8 339.1,359.6 341,362.4 344.8,366.3 348.7,370.1 352.5,373.9 355.3,376.8 357.3,378.7 361.5,378.1 365.3,383.2 367.2,387 369.2,380.7 370.4,379.4 372.3,384.5 374.9,390.8 376.1,384.5 377.4,380.7 379.3,383.2 381.9,388.3 384.4,395.9 385.7,402.3 386.9,393.4 388.2,389.6 389.5,392.1 391.4,403.6 392,406" fill="none" stroke="#A3A500" stroke-width="1.35" stroke-linejoin="round" />
<polyline points="284.5,299.97 285.25,301.75 286,303.56 287.6,301.7 289.8,304.6 291.7,309.4 293.6,310.3 295.5,308 297.4,310.3 299.4,312.3 301,315 303.9,316.9 306.7,319.8 309.6,323.6 312.4,327.4 314.8,324.6 316.7,322.7 319.1,326.5 322,331.3 323.9,334.1 325.8,331.3 327.7,335.1 330.6,337.5 332.4,342.4 335.3,351 338.2,354.8 342,358.6 345.8,362.4 349.6,366.3 353.4,369.1 357.3,371 360.3,375.6 364.1,378.1 366,382 367.2,388.3 368.5,382 370.4,376.9 373,371.8 374.9,370.5 378,373 381.2,373.7 383.1,376.9 385,380.7 386.9,380.7 390.8,379.4 394.6,379.1" fill="none" stroke="#39B600" stroke-width="1.35" stroke-linejoin="round" />
<polyline points="299.8,341.88 300.55,344.29 301.3,346.73 303.8,351.9 306.7,351 308.6,349.1 310.5,351 312.4,350 314.3,353.9 316.7,351.9 319.1,354.8 321,358.6 323.4,361.5 325.3,362.4 327.7,367.2 330.5,371 333.4,374.8 336.3,372.9 339.1,372 342,375.8 344.8,372.9 346.8,370.1 349.6,372.9 353.4,375.8 357.3,378.7 360.3,378.1 362.8,379.1" fill="none" stroke="#00BF7D" stroke-width="1.35" stroke-linejoin="round" />
<polyline points="269,267.86 269.75,269.24 270.5,270.62 274.5,275 277.4,281.7 280.3,287 284.1,292.2 285.7,295 287.9,296 288.6,297.9 290.5,301.7 293.4,304.5 296.2,308.4 299.1,313.1 301.9,315 304.8,318.9 307.7,321.7 310.5,325.5 313.4,323.6 315.3,318.9 316.7,319.8 318.2,323.6 321,327.4 323.9,330.3 326.7,335.7 329.6,336.7 331.5,340.5 334.4,347.2 336.3,352.9 338.2,352.9 341,354.8 343.9,357.7 346.8,360.5 349.6,365.3 352.6,368 356.4,371.8 360.3,374.3 362.8,378.1 364.7,384.5 366.6,389.6 369.2,394.7 371.7,403.6 372.5,406" fill="none" stroke="#00BFC4" stroke-width="1.35" stroke-linejoin="round" />
<polyline points="269,267.86 269.75,269.24 270.5,270.62 274.5,275.5 277.4,281.7 280.3,286.5 282.5,292 284.5,298.5 286,301.8 287.9,302.7 289.5,309.3 292.4,315 295.3,320.8 298.1,325.5 301,330.3 303.8,337.6 306.7,342.4 308.6,347.2 311,344.8 313.4,348.1 316.2,352.9 317.7,357.7 320,361.5 322.4,367.2 324.8,366.3 327.7,370.1 330.5,376.8 332.9,380.6 334.8,378.7 336.3,372.5 337.7,376.8 339.1,382 341,380.6 342.9,384.4 344.8,386.3 347.5,393.4 350.1,399.7 352.6,403.6 356,412 359,412 360.3,403.6 361.5,383.2 363.4,384.5 365.3,379.4 367.2,378.1 369.2,374.3 371.7,376.9 374.2,374.3 378,376.9 381.9,380.7 385.7,384.5 388.9,383.2 392,380.7 394.6,379.1" fill="none" stroke="#00B0F6" stroke-width="1.35" stroke-linejoin="round" />
<polyline points="301.4,347.06 302.15,349.54 302.9,352.07 303.3,352 305.3,317.9 307.2,320.8 309.1,325.5 310.5,333.2 312.9,337 314.3,340.5 316.2,345.3 317.2,352 318.1,356.7 321,359.6 323.9,360.5 327.7,361.5 330.5,365.3 334.4,365.3 337.2,365.8 339.1,366.7 342,366.3 344.8,368.2 347.7,370.1 351.5,372 355.3,373.9 360.3,375 365.3,376.9 370.4,378.1 375.5,378.1 379.3,380.7 381.9,383.2 384.4,387 386.3,388.9 388.2,385.8 390.8,382.6 393.9,379.4" fill="none" stroke="#9590FF" stroke-width="1.35" stroke-linejoin="round" />
<polyline points="254.4,244.09 256.11,246.62 257.82,249.21 259.53,251.86 261.24,254.58 262.95,257.38 264.66,260.24 266.37,263.18 268.08,266.21 269.79,269.31 271.5,272.5 273.21,275.78 274.92,279.15 276.63,282.62 278.34,286.19 280.05,289.87 281.76,293.65 283.47,297.56 285.18,301.58 286.89,305.73 288.6,310.02 290.31,314.44 292.02,319.02 293.73,323.74 295.44,328.63 297.15,333.69 298.86,338.92 300.57,344.35 302.28,349.98 303.99,355.82 305.7,361.88 307.6,385.3 309.5,368.2 311,369.1 312.4,376.8 314.3,376.8 318.1,376.3 320.5,379.1 393.79,379.1" fill="none" stroke="#E76BF3" stroke-width="1.35" stroke-linejoin="round" />
<polyline points="254.4,244.09 255.56,245.8 256.73,247.54 257.89,249.31 259.05,251.12 260.22,252.95 261.38,254.81 262.54,256.71 263.71,258.64 264.87,260.6 266.03,262.6 267.2,264.64 268.36,266.71 269.52,268.82 270.69,270.97 271.85,273.16 273.01,275.4 274.18,277.67 275.34,279.99 276.5,282.36 277.67,284.77 278.83,287.23 279.99,289.74 281.16,292.3 282.32,294.92 283.48,297.59 284.65,300.31 285.81,303.1 286.97,305.94 288.14,308.84 289.3,311.81 290.5,307 292.7,303.7 294.8,302.6 297.2,305.5 299.1,308.4 301.5,307.4 303.4,310.3 305.3,316 306.7,313.1 308.1,317.9 310.5,320.8 312.4,326.5 314.4,332.2 315.3,336.7 317.2,338 319.1,342.4 322.9,345.3 325.8,348.1 328.6,351.9 331.5,354.8 334.4,355.8 338.2,356.7 342,359.6 345.8,362.4 348.8,365.4 352.6,368.6 356.4,370.5 360.3,370.5 364.1,368.6 366.6,369.2 369.8,371.1 371.7,373 373,367.3 374.9,367.3 376.8,369.9 380,371.1 383.1,374.3 385.7,379.5 388.3,387.1 390.2,394.5" fill="none" stroke="#FF62BC" stroke-width="1.35" stroke-linejoin="round" />
</g>
<g style="font-size:6.07px">
<path d="M247.5 219.1V404.5H400.9" class="ax"/>
<path d="M245.5 379.1H247.5" class="tk"/>
<text x="245.3" y="381" class="tl" text-anchor="end">0.0</text>
<path d="M245.5 345.05H247.5" class="tk"/>
<text x="245.3" y="346.95" class="tl" text-anchor="end">0.1</text>
<path d="M245.5 311H247.5" class="tk"/>
<text x="245.3" y="312.9" class="tl" text-anchor="end">0.2</text>
<path d="M245.5 276.95H247.5" class="tk"/>
<text x="245.3" y="278.85" class="tl" text-anchor="end">0.3</text>
<path d="M245.5 242.9H247.5" class="tk"/>
<text x="245.3" y="244.8" class="tl" text-anchor="end">0.4</text>
<path d="M254.4 404.5V406.5" class="tk"/>
<text x="254.4" y="410.9" class="tl" text-anchor="middle">0%</text>
<path d="M289.6 404.5V406.5" class="tk"/>
<text x="289.6" y="410.9" class="tl" text-anchor="middle">25%</text>
<path d="M324.8 404.5V406.5" class="tk"/>
<text x="324.8" y="410.9" class="tl" text-anchor="middle">50%</text>
<path d="M360 404.5V406.5" class="tk"/>
<text x="360" y="410.9" class="tl" text-anchor="middle">75%</text>
<path d="M395.2 404.5V406.5" class="tk"/>
<text x="395.2" y="410.9" class="tl" text-anchor="middle">100%</text>
<text x="324.2" y="418.1" class="at" text-anchor="middle">Threshold Probability</text>
<text x="234.7" y="311.75" class="at" text-anchor="middle" transform="rotate(-90 234.7 311.75)">Net Benefit</text>
</g>
<path d="M410.7 271.1H417.7" stroke="#F8766D" stroke-width="1.35"/>
<text x="421.7" y="272.4" class="lg" style="font-size:4.67px">Treat All</text>
<path d="M410.7 280.1H417.7" stroke="#D89000" stroke-width="1.35"/>
<text x="421.7" y="281.4" class="lg" style="font-size:4.67px">Treat None</text>
<path d="M410.7 289.1H417.7" stroke="#A3A500" stroke-width="1.35"/>
<text x="421.7" y="290.4" class="lg" style="font-size:4.67px">Lasso_Cox</text>
<path d="M410.7 298.1H417.7" stroke="#39B600" stroke-width="1.35"/>
<text x="421.7" y="299.4" class="lg" style="font-size:4.67px">Coxboost</text>
<path d="M410.7 307.1H417.7" stroke="#00BF7D" stroke-width="1.35"/>
<text x="421.7" y="308.4" class="lg" style="font-size:4.67px">Survivalsvm</text>
<path d="M410.7 316.1H417.7" stroke="#00BFC4" stroke-width="1.35"/>
<text x="421.7" y="317.4" class="lg" style="font-size:4.67px">GBM</text>
<path d="M410.7 325.1H417.7" stroke="#00B0F6" stroke-width="1.35"/>
<text x="421.7" y="326.4" class="lg" style="font-size:4.67px">RSF</text>
<path d="M410.7 334.1H417.7" stroke="#9590FF" stroke-width="1.35"/>
<text x="421.7" y="335.4" class="lg" style="font-size:4.67px">xgboost</text>
<path d="M410.7 343.1H417.7" stroke="#E76BF3" stroke-width="1.35"/>
<text x="421.7" y="344.4" class="lg" style="font-size:4.67px">superpc</text>
<path d="M410.7 352.1H417.7" stroke="#FF62BC" stroke-width="1.35"/>
<text x="421.7" y="353.4" class="lg" style="font-size:4.67px">plsRcox</text>
<clipPath id="cF"><rect x="474.4" y="210.5" width="162.2" height="194.8"/></clipPath>
<text x="448.5" y="218" class="pl">F</text>
<g clip-path="url(#cF)">
<polyline points="481.3,234.38 482.68,234.9 484.05,235.44 485.43,235.98 486.8,236.53 488.18,237.09 489.55,237.67 490.93,238.26 492.31,238.85 493.68,239.47 495.06,240.09 496.43,240.73 497.81,241.38 499.18,242.04 500.56,242.72 501.93,243.42 503.31,244.13 504.69,244.86 506.06,245.6 507.44,246.36 508.81,247.14 510.19,247.94 511.56,248.75 512.94,249.59 514.32,250.44 515.69,251.32 517.07,252.22 518.44,253.15 519.82,254.09 521.19,255.07 522.57,256.06 523.95,257.09 525.32,258.14 526.7,259.22 528.07,260.34 529.45,261.48 530.82,262.66 532.2,263.87 533.57,265.12 534.95,266.4 536.33,267.73 537.7,269.1 539.08,270.51 540.45,271.96 541.83,273.47 543.2,275.02 544.58,276.62 545.96,278.28 547.33,280 548.71,281.78 550.08,283.63 551.46,285.54 552.83,287.53 554.21,289.59 555.58,291.73 556.96,293.96 558.34,296.28 559.71,298.69 561.09,301.21 562.46,303.83 563.84,306.58 565.21,309.44 566.59,312.44 567.97,315.59 569.34,318.88 570.72,322.34 572.09,325.98 573.47,329.81 574.84,333.84 576.22,338.1 577.6,342.6 578.97,347.36 580.35,352.41 581.72,357.78 583.1,363.49 584.47,369.58 585.85,376.08 587.22,383.06 588.6,390.54 589.98,398.6 591.35,407.3" fill="none" stroke="#F8766D" stroke-width="1.35" stroke-linejoin="round" />
<polyline points="481.3,386.5 598.4,386.5" fill="none" stroke="#D89000" stroke-width="1.35" stroke-linejoin="round" />
<polyline points="534.5,265.98 535.25,266.69 536,267.41 537.7,271.7 542.4,276.5 544.4,281.3 548.2,286 552,288.9 555.8,291.8 558.7,293.7 560.6,295.6 562.2,296.5 565,298.4 567.9,303.1 569.8,307.9 570.8,314.6 572.7,321.3 575.5,325.1 577.3,332.3 581.7,335.6 586.2,341.2 590.6,345.6 594,351.2 597.3,354.5 600.7,361.2 602.9,366.8 605,369 606.8,371.8 609.3,376.9 611.9,382 614.4,379.4 618.2,383.2 620.1,383.2" fill="none" stroke="#A3A500" stroke-width="1.35" stroke-linejoin="round" />
<polyline points="534.5,265.98 535.25,266.69 536,267.41 537.7,271.7 542.4,276.5 544.4,281.3 548.2,286 552,288.9 555.8,291.8 558.7,293.7 560.6,295.6 562.2,296.5 565,298.4 567.9,303.1 569.8,307.9 570.8,314.6 572.7,321.3 575.5,325.1 578.4,327 580.3,327.9 583.2,330.8 587.3,336.7 590.6,342.3 592.9,345.6 594,340.1 596.2,342.3 598.4,347.9 601.8,353.4 605,357.9 608,368 610.6,375.6 611.9,382 613.1,390.8 615,388.9 617,389.6 618.9,388.3 620.1,382" fill="none" stroke="#39B600" stroke-width="1.35" stroke-linejoin="round" />
<polyline points="531,262.81 531.75,263.47 532.5,264.14 533.9,267 536.7,271.7 539.6,276.5 541.5,277.9 544.4,281.3 547.9,287.9 552.6,292.6 555.5,296.5 558.4,302.2 560.3,307 562.2,311.7 564.1,315.5 565,320.3 566.9,326 567.9,331.8 569.8,334.6 571.7,339.4 573.9,348 577.3,353.4 579.5,359 582.8,364.6 585.1,366.8 586.2,369 587.3,372.4 589,375.7 590.6,377.9 592.3,373.5 594,376.8 596.2,379.1 598.4,374.6 600.7,375.7 602.9,377.9 605,376.8 606.8,383.2 609.3,384.5 612,386.5" fill="none" stroke="#00BF7D" stroke-width="1.35" stroke-linejoin="round" />
<polyline points="531,262.81 531.75,263.47 532.5,264.14 533.9,267 536.7,271.7 539.6,276.5 541.5,277.9 544.4,281.3 546.9,286.9 550.7,291.7 554.5,296.5 558.4,299.3 561.2,303.1 564.1,306 566.9,309.8 569.8,313.6 572.7,316.5 574.6,321.3 577.4,327 580.3,329.8 583.2,330.8 587,328.9 589.8,331.8 592.7,334.6 596.5,337.5 599.4,340.3 602.3,345 605.5,354 608,361.6 610,362.9 611.9,369.2 614.4,375.6 617,380.7 618.9,385.8 620.1,393.4 620.8,404.8 621,407" fill="none" stroke="#00BFC4" stroke-width="1.35" stroke-linejoin="round" />
<polyline points="514,250.25 514.75,250.72 515.5,251.2 516.2,252.6 517.6,255.5 519.5,258.8 522.4,260.3 525.3,263.1 529.1,266 531.9,268.9 534.8,272.7 535.8,276.5 537.7,280.3 540.5,283.2 543.4,287 546.3,291.8 548.8,294.5 552.6,300.3 555.5,304.1 558.4,307.9 561.2,314.6 563.1,316.5 564.6,313.6 566,320.3 567.2,328.9 569.5,332.3 571.7,338.9 573.9,342.3 576.1,346.7 579.5,351.2 582.8,350.1 586.2,355.7 589.5,361.2 592.9,365.7 595.1,364.6 597.3,367.9 600.7,371.3 602.9,377.9 604.2,380.7 606.1,390.8 607.4,382 609.3,388.3 611.2,395.9 613.1,404.8 613.5,407" fill="none" stroke="#00B0F6" stroke-width="1.35" stroke-linejoin="round" />
<polyline points="578.9,347.11 579.65,349.82 580.4,352.61 582.8,332.3 584.5,331.1 586.2,336.7 588.4,345.6 590.6,354.5 594,357.9 597.3,362.3 600.7,366.8 605,372.4 609.3,378.1 613.1,380.7 615.7,383.9 618.9,385.8 620.8,386.5" fill="none" stroke="#9590FF" stroke-width="1.35" stroke-linejoin="round" />
<polyline points="481.3,234.38 484.64,235.67 487.98,237.01 491.32,238.42 494.66,239.91 498,241.47 501.34,243.12 504.68,244.85 508.02,246.69 511.36,248.63 514.7,250.69 518.04,252.87 521.38,255.2 524.72,257.68 528.06,260.33 531.4,263.16 534.74,266.21 538.08,269.48 541.42,273.01 544.76,276.84 548.1,280.99 551.44,285.52 554.78,290.47 558.12,295.91 561.46,301.91 564.8,308.57 568.14,316 571.48,324.34 574.82,333.77 578.16,344.52 581.5,356.89 583.4,372.4 584.5,374.6 586.2,373.5 587.3,379.1 589,370.1 590.1,374.6 591.7,373.5 594,374.6 596.2,373.5 597.9,386.5 624.45,386.5" fill="none" stroke="#E76BF3" stroke-width="1.35" stroke-linejoin="round" />
<polyline points="481.3,234.38 484.16,235.48 487.01,236.62 489.87,237.8 492.73,239.04 495.58,240.33 498.44,241.68 501.3,243.09 504.15,244.57 507.01,246.12 509.87,247.75 512.72,249.45 515.58,251.25 518.44,253.14 521.29,255.14 524.15,257.24 527.01,259.47 529.86,261.83 532.72,264.34 535.58,267 538.43,269.84 541.29,272.87 544.15,276.11 547,279.59 549.86,283.33 552.72,287.36 555.57,291.71 558.43,296.44 561.29,301.58 564.14,307.2 567,313.37 567.9,313.6 570.8,310.8 573.6,311.2 575.5,316.5 576.1,320 577.4,323.2 579.5,326.7 582.8,326.7 585.6,331.1 588.4,341.2 591.7,334.5 594,340.1 596.2,345.6 598.4,352.3 601.8,357.9 605,364.6 605.5,369.2 608.7,376.9 610.6,380.7 613.1,378.1 615.7,382 618.9,375 620.8,383.2 622,393.4 623.3,404.8 623.5,407" fill="none" stroke="#FF62BC" stroke-width="1.35" stroke-linejoin="round" />
</g>
<g style="font-size:6.23px">
<path d="M474.5 215.5V405.5H631.6" class="ax"/>
<path d="M472.5 386.5H474.5" class="tk"/>
<text x="472.2" y="388.4" class="tl" text-anchor="end">0.0</text>
<path d="M472.5 345.22H474.5" class="tk"/>
<text x="472.2" y="347.12" class="tl" text-anchor="end">0.2</text>
<path d="M472.5 303.94H474.5" class="tk"/>
<text x="472.2" y="305.84" class="tl" text-anchor="end">0.4</text>
<path d="M472.5 262.66H474.5" class="tk"/>
<text x="472.2" y="264.56" class="tl" text-anchor="end">0.6</text>
<path d="M472.5 221.38H474.5" class="tk"/>
<text x="472.2" y="223.28" class="tl" text-anchor="end">0.8</text>
<path d="M481.3 405.5V407.5" class="tk"/>
<text x="481.3" y="411.8" class="tl" text-anchor="middle">0%</text>
<path d="M517.45 405.5V407.5" class="tk"/>
<text x="517.45" y="411.8" class="tl" text-anchor="middle">25%</text>
<path d="M553.6 405.5V407.5" class="tk"/>
<text x="553.6" y="411.8" class="tl" text-anchor="middle">50%</text>
<path d="M589.75 405.5V407.5" class="tk"/>
<text x="589.75" y="411.8" class="tl" text-anchor="middle">75%</text>
<path d="M625.9 405.5V407.5" class="tk"/>
<text x="625.9" y="411.8" class="tl" text-anchor="middle">100%</text>
<text x="553" y="419" class="at" text-anchor="middle">Threshold Probability</text>
<text x="461.6" y="310.4" class="at" text-anchor="middle" transform="rotate(-90 461.6 310.4)">Net Benefit</text>
</g>
<path d="M642 268.7H649" stroke="#F8766D" stroke-width="1.35"/>
<text x="653" y="270" class="lg" style="font-size:4.8px">Treat All</text>
<path d="M642 277.95H649" stroke="#D89000" stroke-width="1.35"/>
<text x="653" y="279.25" class="lg" style="font-size:4.8px">Treat None</text>
<path d="M642 287.2H649" stroke="#A3A500" stroke-width="1.35"/>
<text x="653" y="288.5" class="lg" style="font-size:4.8px">Lasso_Cox</text>
<path d="M642 296.45H649" stroke="#39B600" stroke-width="1.35"/>
<text x="653" y="297.75" class="lg" style="font-size:4.8px">Coxboost</text>
<path d="M642 305.7H649" stroke="#00BF7D" stroke-width="1.35"/>
<text x="653" y="307" class="lg" style="font-size:4.8px">Survivalsvm</text>
<path d="M642 314.95H649" stroke="#00BFC4" stroke-width="1.35"/>
<text x="653" y="316.25" class="lg" style="font-size:4.8px">GBM</text>
<path d="M642 324.2H649" stroke="#00B0F6" stroke-width="1.35"/>
<text x="653" y="325.5" class="lg" style="font-size:4.8px">RSF</text>
<path d="M642 333.45H649" stroke="#9590FF" stroke-width="1.35"/>
<text x="653" y="334.75" class="lg" style="font-size:4.8px">xgboost</text>
<path d="M642 342.7H649" stroke="#E76BF3" stroke-width="1.35"/>
<text x="653" y="344" class="lg" style="font-size:4.8px">superpc</text>
<path d="M642 351.95H649" stroke="#FF62BC" stroke-width="1.35"/>
<text x="653" y="353.25" class="lg" style="font-size:4.8px">plsRcox</text>
<clipPath id="cG"><rect x="27.1" y="424.5" width="157.4" height="188.9"/></clipPath>
<text x="3.8" y="431.2" class="pl">G</text>
<g clip-path="url(#cG)">
<polyline points="34.2,466.28 34.65,467.66 35.11,469.05 35.56,470.45 36.01,471.86 36.47,473.29 36.92,474.71 37.37,476.15 37.83,477.6 38.28,479.06 38.73,480.53 39.19,482.01 39.64,483.5 40.09,484.99 40.55,486.5 41,488.02 41.45,489.55 41.91,491.09 42.36,492.64 42.81,494.2 43.27,495.78 43.72,497.36 44.17,498.95 44.63,500.56 45.08,502.17 45.54,503.8 45.99,505.44 46.44,507.09 46.9,508.76 47.35,510.43 47.8,512.12 48.26,513.82 48.71,515.53 49.16,517.26 49.62,518.99 50.07,520.74 50.52,522.5 50.98,524.28 51.43,526.07 51.88,527.87 52.34,529.69 52.79,531.52 53.24,533.36 53.7,535.22 54.15,537.09 54.6,538.97 55.06,540.87 55.51,542.79 55.96,544.71 56.42,546.66 56.87,548.62 57.32,550.59 57.78,552.58 58.23,554.59 58.68,556.61 59.14,558.65 59.59,560.7 60.04,562.77 60.5,564.86 60.95,566.96 61.4,569.08 61.86,571.22 62.31,573.37 62.76,575.54 63.22,577.73 63.67,579.94 64.12,582.17 64.58,584.42 65.03,586.68 65.49,588.96 65.94,591.26 66.39,593.59 66.85,595.93 67.3,598.29 67.75,600.67 68.21,603.07 68.66,605.5 69.11,607.94 69.57,610.4 70.02,612.89 70.47,615.4" fill="none" stroke="#F8766D" stroke-width="1.35" stroke-linejoin="round" />
<polyline points="34.2,578.3 63.9,578.3" fill="none" stroke="#D89000" stroke-width="1.35" stroke-linejoin="round" />
<polyline points="48,512.86 48.75,515.69 49.5,518.55 51,518 52.3,522.7 55.2,523.7 56.6,514 58,513.2 59.9,517 61.9,523.7 63.3,524.1 66,525.3 69.2,527.7 72.4,530.9 74,538.9 75.5,541.3 77.9,543.6 79.5,546.8 81.1,551.6 82.7,552.4 84.3,550 85.9,545.2 88.3,543.6 91.5,544.5 94.5,545.8 98.4,546.7 102.2,548.1 104.1,551.5 106,553.4 106.9,558.2 107.9,563.9 110.8,564.8 115.5,565.8 121.3,566.8 127,568.7 132.7,569.6 138.4,571.5 145.5,573.3 154,576.1 158.2,578.3" fill="none" stroke="#A3A500" stroke-width="1.35" stroke-linejoin="round" />
<polyline points="47.5,510.99 48.25,513.8 49,516.64 50.4,513.2 52.3,515.1 54.2,519.8 57.1,515.1 59.9,520.8 61.9,526.5 63.3,532.7 66,534.9 68.4,535.7 70,532.5 71.6,537.3 74,535.7 77.1,534.1 80.3,534.9 83.5,535.7 85.9,536.5 87.5,541.3 89.1,544.4 90.7,545.8 92.6,544.8 94.5,545.8 96.5,550.5 98.4,553.4 100.3,554.4 101.7,558.2 102.7,563.9 104.1,560.1 106,559.1 107.9,558.2 109.8,559.1 112.7,561 114.6,566.8 117.4,568.7 121.3,571.5 125.1,574.4 128.9,577.3 130.8,578.3" fill="none" stroke="#39B600" stroke-width="1.35" stroke-linejoin="round" />
<polyline points="49.5,518.55 50.25,521.44 51,524.37 51.8,524.1 53.7,531.7 56.6,541.3 58.5,543.2 60.4,540.3 62.3,537.4 64.2,538.4 66.1,541.3 68,543.2 69.5,548.9 70.9,554.6 72.8,553.7 74.7,558.4 76.3,564.3 77.6,564.2 79,565.5 81.1,562.7 82.7,561.1 84.3,562.7 85,562 86.9,569.6 88.8,578.3" fill="none" stroke="#00BF7D" stroke-width="1.35" stroke-linejoin="round" />
<polyline points="42.3,492.43 43.05,495.02 43.8,497.63 46.3,501.8 47.9,505 49.9,509.8 51.9,511.4 54.3,509.8 55.7,510.3 58,514.1 59.9,517.9 62.8,518.9 66,518.2 68.4,521.4 70,523.8 72.4,526.1 74.8,529.3 77.1,529.3 79.5,530.1 80.7,533.3 81.9,538.1 83.1,542 84.3,548.4 85.1,552.4 87.5,551.6 89.9,553.2 93,555.6 95.5,553.4 98.4,554.4 100.3,556.3 103.1,555.3 105,558.2 106.9,556.3 108.4,553.4 109.3,557.2 110.8,560.1 112.7,558.2 115.5,559.1 118.4,559.1 120.3,555.8 122.1,554.9 123.5,555.6 125,558.4 128.5,559.8 134.2,561.2 139.8,563.4 145.5,565.5 149,567.6 150.4,572.6 152.6,576.8 154,581.1 156.8,585.3 159.6,591 162.5,598.1 164.6,606.6 165.6,613.4 166,616" fill="none" stroke="#00BFC4" stroke-width="1.35" stroke-linejoin="round" />
<polyline points="42.3,492.43 43.05,495.02 43.8,497.63 46.3,503 48.5,507 50.4,511 52.3,515.1 54.2,520.8 56.1,524.6 58,529.4 59.5,533.6 61.4,534.6 63.3,533.6 65.2,538.4 66,538.1 67.6,545.2 69.2,553.2 70.4,558.8 71.6,552.4 73.2,545.2 75.5,544.8 77.9,543.6 79.9,542.8 81.9,542 83.1,543.6 84.3,549.2 85.9,554 88.3,555.6 90.7,556.4 93,558 94.5,561 95.5,564.4 100.3,565.3 106,566.8 113.6,568.7 121.3,571.5 128.9,574.4 136.5,576.3 142.3,577.7 145.5,578.3" fill="none" stroke="#00B0F6" stroke-width="1.35" stroke-linejoin="round" />
<polyline points="48.5,514.74 49.25,517.59 50,520.47 52.5,518 54.2,522 56.1,506.4 57.5,514.5 59.5,522.2 62.3,528.9 64.2,536.5 66,537.3 69.2,539.7 71.6,540.5 74,538.9 75.5,538.9 77.5,542.8 78.7,549.2 79.9,555.6 81.9,557.2 85.1,558.8 88.3,561.1 90.7,561.9 92.3,558.8 94.6,557.2 97.4,558.2 99.3,556.3 102.2,554.4 104.1,555.3 106,559.1 107.9,560.1 109.8,560.1 111.7,557.2 113.6,557.7" fill="none" stroke="#9590FF" stroke-width="1.35" stroke-linejoin="round" />
<polyline points="34.2,466.28 35.17,469.25 36.14,472.26 37.11,475.32 38.08,478.41 39.05,481.56 40.02,484.75 40.99,487.98 41.96,491.27 42.93,494.6 43.9,497.98 44.87,501.42 45.84,504.9 46.81,508.44 47.78,512.04 48.75,515.69 49.72,519.39 50.69,523.16 51.66,526.98 52.63,530.87 53.6,534.82 54.57,538.83 55.54,542.91 56.51,547.06 57.48,551.28 58.45,555.56 59.42,559.92 60.39,564.36 61.36,568.87 62.33,573.46 63.3,578.13 63.4,578.3 172.21,578.3" fill="none" stroke="#E76BF3" stroke-width="1.35" stroke-linejoin="round" />
<polyline points="34.2,466.28 34.69,467.78 35.19,469.3 35.68,470.83 36.17,472.36 36.67,473.91 37.16,475.47 37.65,477.05 38.15,478.63 38.64,480.22 39.13,481.83 39.63,483.45 40.12,485.08 40.61,486.72 41.11,488.38 41.6,490.04 42.09,491.72 42.59,493.42 43.08,495.12 43.57,496.84 44.07,498.57 44.56,500.31 45.05,502.07 45.55,503.84 46.04,505.63 46.53,507.43 47.03,509.24 47.52,511.07 48.01,512.91 48.51,514.77 49,516.64 49.5,517.9 50.9,517.4 52.8,516.5 54.7,513.6 56.6,515.5 58.5,522.2 60.4,526 63.3,527 66,529.3 69.2,526.9 71.6,525.3 73.2,528.5 74.8,532.5 77.1,534.1 79.5,535.7 81.1,538.9 83.5,539.7 85.1,544.4 86.9,548.6 88.8,547.7 90.7,549.6 92.6,552.4 94.5,555.3 96.5,561 99.3,562.5 102.2,563.9 105,564.8 106.9,562 108.9,559.1 111.7,558.2 115.5,558.6 119.4,559.6 121.3,562.9 122.8,564.1 123.5,567.6 128.5,568.3 137,570.4 145.5,572.6 154,574.7 162.5,576.8 168.1,578 172.7,578.3" fill="none" stroke="#FF62BC" stroke-width="1.35" stroke-linejoin="round" />
</g>
<g style="font-size:6.01px">
<path d="M27.5 429.5V613.5H179.5" class="ax"/>
<path d="M25.5 578.3H27.5" class="tk"/>
<text x="24.9" y="580.2" class="tl" text-anchor="end">0.0</text>
<path d="M25.5 524.7H27.5" class="tk"/>
<text x="24.9" y="526.6" class="tl" text-anchor="end">0.1</text>
<path d="M25.5 471.1H27.5" class="tk"/>
<text x="24.9" y="473" class="tl" text-anchor="end">0.2</text>
<path d="M34.2 613.5V615.5" class="tk"/>
<text x="34.2" y="619.9" class="tl" text-anchor="middle">0%</text>
<path d="M69.05 613.5V615.5" class="tk"/>
<text x="69.05" y="619.9" class="tl" text-anchor="middle">25%</text>
<path d="M103.9 613.5V615.5" class="tk"/>
<text x="103.9" y="619.9" class="tl" text-anchor="middle">50%</text>
<path d="M138.75 613.5V615.5" class="tk"/>
<text x="138.75" y="619.9" class="tl" text-anchor="middle">75%</text>
<path d="M173.6 613.5V615.5" class="tk"/>
<text x="173.6" y="619.9" class="tl" text-anchor="middle">100%</text>
<text x="103.3" y="627.1" class="at" text-anchor="middle">Threshold Probability</text>
<text x="14.3" y="521.45" class="at" text-anchor="middle" transform="rotate(-90 14.3 521.45)">Net Benefit</text>
</g>
<path d="M188.9 481.3H195.9" stroke="#F8766D" stroke-width="1.35"/>
<text x="199.9" y="482.6" class="lg" style="font-size:4.64px">Treat All</text>
<path d="M188.9 490.25H195.9" stroke="#D89000" stroke-width="1.35"/>
<text x="199.9" y="491.55" class="lg" style="font-size:4.64px">Treat None</text>
<path d="M188.9 499.2H195.9" stroke="#A3A500" stroke-width="1.35"/>
<text x="199.9" y="500.5" class="lg" style="font-size:4.64px">Lasso_Cox</text>
<path d="M188.9 508.15H195.9" stroke="#39B600" stroke-width="1.35"/>
<text x="199.9" y="509.45" class="lg" style="font-size:4.64px">Coxboost</text>
<path d="M188.9 517.1H195.9" stroke="#00BF7D" stroke-width="1.35"/>
<text x="199.9" y="518.4" class="lg" style="font-size:4.64px">Survivalsvm</text>
<path d="M188.9 526.05H195.9" stroke="#00BFC4" stroke-width="1.35"/>
<text x="199.9" y="527.35" class="lg" style="font-size:4.64px">GBM</text>
<path d="M188.9 535H195.9" stroke="#00B0F6" stroke-width="1.35"/>
<text x="199.9" y="536.3" class="lg" style="font-size:4.64px">RSF</text>
<path d="M188.9 543.95H195.9" stroke="#9590FF" stroke-width="1.35"/>
<text x="199.9" y="545.25" class="lg" style="font-size:4.64px">xgboost</text>
<path d="M188.9 552.9H195.9" stroke="#E76BF3" stroke-width="1.35"/>
<text x="199.9" y="554.2" class="lg" style="font-size:4.64px">superpc</text>
<path d="M188.9 561.85H195.9" stroke="#FF62BC" stroke-width="1.35"/>
<text x="199.9" y="563.15" class="lg" style="font-size:4.64px">plsRcox</text>
<clipPath id="cH"><rect x="248.5" y="419.5" width="159.2" height="190.7"/></clipPath>
<text x="227" y="430.7" class="pl">H</text>
<g clip-path="url(#cH)">
<polyline points="255.5,451.39 256.22,452.58 256.95,453.78 257.67,455 258.39,456.23 259.12,457.47 259.84,458.72 260.56,459.99 261.29,461.28 262.01,462.57 262.74,463.88 263.46,465.21 264.18,466.55 264.91,467.9 265.63,469.27 266.35,470.65 267.08,472.05 267.8,473.46 268.52,474.9 269.25,476.34 269.97,477.81 270.69,479.29 271.42,480.78 272.14,482.3 272.87,483.83 273.59,485.38 274.31,486.95 275.04,488.54 275.76,490.15 276.48,491.77 277.21,493.42 277.93,495.08 278.65,496.77 279.38,498.48 280.1,500.21 280.82,501.96 281.55,503.73 282.27,505.52 283,507.34 283.72,509.18 284.44,511.04 285.17,512.93 285.89,514.85 286.61,516.78 287.34,518.75 288.06,520.74 288.78,522.76 289.51,524.8 290.23,526.87 290.95,528.97 291.68,531.1 292.4,533.26 293.13,535.45 293.85,537.67 294.57,539.92 295.3,542.2 296.02,544.52 296.74,546.87 297.47,549.25 298.19,551.67 298.91,554.13 299.64,556.62 300.36,559.15 301.08,561.72 301.81,564.33 302.53,566.97 303.25,569.66 303.98,572.39 304.7,575.16 305.43,577.98 306.15,580.84 306.87,583.75 307.6,586.71 308.32,589.71 309.04,592.76 309.77,595.87 310.49,599.02 311.21,602.23 311.94,605.5 312.66,608.82 313.38,612.2" fill="none" stroke="#F8766D" stroke-width="1.35" stroke-linejoin="round" />
<polyline points="255.5,583.7 307.8,583.7" fill="none" stroke="#D89000" stroke-width="1.35" stroke-linejoin="round" />
<polyline points="281.5,503.61 282.25,505.47 283,507.35 285,510.7 290.7,518.4 294.5,525 296.5,532 297.4,539.4 298.4,533.6 301,536 304,541 306.9,545 308.6,548.6 311.5,552.4 314.3,554.3 317.2,555.3 319.1,548.6 321,549.5 323.9,553.4 325.8,555.3 328.6,559.1 331.5,561.9 335,562.5 338.5,564.2 342,566.9 345.5,568.6 348.1,570.3 350.7,569.5 352.5,567.7 355.1,568.6 357.7,567.7 360.3,569 363,570.3 365.6,571.2 368.2,574.7 370.8,581.7 373.5,587.8 375.6,591.8 377,567.7 378.7,568.6 381.3,568.6 386.7,569" fill="none" stroke="#A3A500" stroke-width="1.35" stroke-linejoin="round" />
<polyline points="281.5,503.61 282.25,505.47 283,507.35 285,510.7 290.7,518.4 294.5,525 298.4,529.8 301.2,531.7 304.1,537.4 306.9,543.2 309.5,550.5 312.4,553.4 315.3,557.2 318.1,557.2 320,559.1 321.9,562.9 323.9,561.9 325.8,557.2 328.6,559.1 330.5,561 333.4,564.8 335,562.5 339.4,565.1 342.9,563.4 345.5,560.7 347.7,558.1 349.9,562.5 352,565.1 354.2,561.6 356.4,565.1 358.6,570.3 361.2,574.7 363.8,579.1 366.5,585.2 368.7,590.5 370,580 370.8,566 373.5,565.5 376.1,567.7 378.7,570.3 382.2,574.7 385,578.2 387.5,582.5 389,583.7" fill="none" stroke="#39B600" stroke-width="1.35" stroke-linejoin="round" />
<polyline points="290.5,527.65 291.25,529.84 292,532.06 294.5,535.5 296.5,542.2 299.3,546 302.2,550.8 303.8,554.3 306.7,556.2 309.5,556.2 312.4,563.9 314.8,571.5 317.2,561 319.1,565.8 321.9,571.5 324.8,571.5 326.7,566.7 328.6,580.1 330.5,587.7 332.4,583.9 334.8,588.2 338.5,580 342,575.2 345.5,578.2 348.1,580.8 349.9,583.7" fill="none" stroke="#00BF7D" stroke-width="1.35" stroke-linejoin="round" />
<polyline points="268.5,474.85 269.25,476.35 270,477.86 272,478 278,492 283.5,500 285,506.9 287.9,508.8 290.7,515.5 293.6,520.3 296.5,526 299.3,531.7 302.2,532.7 305,534.6 307.9,538.4 310.8,539.4 313.6,539.4 315.5,537.4 317.4,531.7 319.4,530.3 321.3,532.7 323.2,537.4 325.1,541.3 327,541.3 327.7,543.8 329.6,548.6 332.4,549.5 334.4,552.4 335,556.4 337.6,559.9 340.2,565.1 342.9,569.5 345.5,572.1 348.1,576.5 350.3,582.6 352,587 353.4,591.3 355.1,586.1 357.7,580 360.3,581.7 363,585.2 365.6,587.8 368.2,583.5 370.8,590.5 373.5,596.6 375.2,594 377,586.1 378.7,590.5 381.3,597.4 383.2,600.8 384.6,606.5 386,588.8 387.5,593.8 388.9,602.3 390.3,610 390.6,613" fill="none" stroke="#00BFC4" stroke-width="1.35" stroke-linejoin="round" />
<polyline points="269.5,476.85 270.25,478.37 271,479.92 271.7,479.5 278.4,495.8 283.1,502.4 286,508.2 287.9,507.7 289.8,512.9 291.7,517 294.5,522.2 297.4,527.9 300.3,532.7 303.1,533.6 306,536.5 308.9,541.3 310.8,545.1 312.7,540.3 314.6,548 316.5,552.7 318.4,560.3 319.1,561.9 321,567.7 322.9,573.4 325.8,579.1 327.7,572.4 329.6,567.7 332.4,565.8 335,562.5 337.6,560.7 340.2,566.9 342.9,571.2 345.5,573 348.1,575.6 350.3,575.6 352.5,583.5 354.2,585.2 356.4,580 357.7,576.5 359.5,578.2 360.8,574.7 363,577.3 365.6,578.2 370,578.7 374.3,579.5 378.7,580.4 385,581.7 391.7,583.2 395,583.7" fill="none" stroke="#00B0F6" stroke-width="1.35" stroke-linejoin="round" />
<polyline points="284.5,511.19 285.25,513.15 286,515.14 288,513 291.7,521.2 294.5,527 296.5,533.6 298.4,531.7 301.2,535.5 304.1,543.2 306.9,544.1 309.8,545 311.7,548.9 314.6,551.8 317.4,550.8 321,553.4 324.8,555.3 327.7,556.2 330.5,558.1 333.4,563.9 336.3,568.6 339.1,571.5 342,572 345.5,571.2 348.1,571.2 349.9,564.2 352.5,563.8 356,564.7 359.5,565.1 362.1,567.7 364.7,570.3 367.3,572.1 370,574.7 374,577.5" fill="none" stroke="#9590FF" stroke-width="1.35" stroke-linejoin="round" />
<polyline points="255.5,451.39 257.18,454.18 258.87,457.04 260.55,459.97 262.23,462.97 263.92,466.05 265.6,469.21 267.28,472.45 268.97,475.78 270.65,479.19 272.33,482.7 274.02,486.31 275.7,490.01 277.38,493.82 279.07,497.74 280.75,501.77 282.43,505.93 284.12,510.2 285.8,514.61 287.48,519.15 289.17,523.83 290.85,528.67 292.53,533.66 294.22,538.81 295.9,544.14 297.58,549.64 299.27,555.34 300.95,561.24 302.63,567.35 304.32,573.68 306,580.25 306.7,587.2 307.3,583.7 395.19,583.7" fill="none" stroke="#E76BF3" stroke-width="1.35" stroke-linejoin="round" />
<polyline points="255.5,451.39 256.55,453.12 257.6,454.88 258.65,456.66 259.7,458.48 260.75,460.32 261.8,462.19 262.85,464.09 263.9,466.02 264.95,467.98 266,469.97 267.05,472 268.1,474.05 269.15,476.15 270.2,478.27 271.25,480.43 272.3,482.63 273.35,484.87 274.4,487.14 275.45,489.46 276.5,491.81 277.55,494.21 278.6,496.64 279.65,499.13 280.7,501.65 281.75,504.23 282.8,506.85 283.85,509.52 284.9,512.24 285.95,515.01 287,517.83 287.9,517.4 290.7,517.4 293.6,516.9 295.5,520.6 297.4,524.4 299.3,531.7 301.2,534.6 304.1,540.3 306.9,543.2 308.9,538.4 311.7,541.3 313.6,547 315.5,551.8 317.2,549.5 320,544.8 322.9,545.7 325.8,548.6 328.6,551.5 331.5,550.5 334.4,552.4 337.6,554.6 339.4,556.4 341.1,560.7 343.7,563.4 346.4,566 349,569.5 350.7,573 353.4,574.7 355.1,579.1 357.7,580.8 360.3,582.6 363,584.8 364.7,579.1 366,572.1 367.3,564.7 370,564.2 372.6,564.7 375.2,564.7 377.8,566.9 379.6,570.3 382.6,571.2" fill="none" stroke="#FF62BC" stroke-width="1.35" stroke-linejoin="round" />
</g>
<g style="font-size:6.08px">
<path d="M248.5 424.5V610.5H402.7" class="ax"/>
<path d="M246.5 583.7H248.5" class="tk"/>
<text x="246.3" y="585.6" class="tl" text-anchor="end">0.0</text>
<path d="M246.5 547.35H248.5" class="tk"/>
<text x="246.3" y="549.25" class="tl" text-anchor="end">0.1</text>
<path d="M246.5 511H248.5" class="tk"/>
<text x="246.3" y="512.9" class="tl" text-anchor="end">0.2</text>
<path d="M246.5 474.65H248.5" class="tk"/>
<text x="246.3" y="476.55" class="tl" text-anchor="end">0.3</text>
<path d="M246.5 438.3H248.5" class="tk"/>
<text x="246.3" y="440.2" class="tl" text-anchor="end">0.4</text>
<path d="M255.5 610.5V612.5" class="tk"/>
<text x="255.5" y="616.7" class="tl" text-anchor="middle">0%</text>
<path d="M290.77 610.5V612.5" class="tk"/>
<text x="290.77" y="616.7" class="tl" text-anchor="middle">25%</text>
<path d="M326.05 610.5V612.5" class="tk"/>
<text x="326.05" y="616.7" class="tl" text-anchor="middle">50%</text>
<path d="M361.32 610.5V612.5" class="tk"/>
<text x="361.32" y="616.7" class="tl" text-anchor="middle">75%</text>
<path d="M396.6 610.5V612.5" class="tk"/>
<text x="396.6" y="616.7" class="tl" text-anchor="middle">100%</text>
<text x="325.6" y="623.9" class="at" text-anchor="middle">Threshold Probability</text>
<text x="235.7" y="517.35" class="at" text-anchor="middle" transform="rotate(-90 235.7 517.35)">Net Benefit</text>
</g>
<path d="M411.7 477H418.7" stroke="#F8766D" stroke-width="1.35"/>
<text x="422.7" y="478.3" class="lg" style="font-size:4.66px">Treat All</text>
<path d="M411.7 485.99H418.7" stroke="#D89000" stroke-width="1.35"/>
<text x="422.7" y="487.29" class="lg" style="font-size:4.66px">Treat None</text>
<path d="M411.7 494.98H418.7" stroke="#A3A500" stroke-width="1.35"/>
<text x="422.7" y="496.28" class="lg" style="font-size:4.66px">Lasso_Cox</text>
<path d="M411.7 503.97H418.7" stroke="#39B600" stroke-width="1.35"/>
<text x="422.7" y="505.27" class="lg" style="font-size:4.66px">Coxboost</text>
<path d="M411.7 512.96H418.7" stroke="#00BF7D" stroke-width="1.35"/>
<text x="422.7" y="514.26" class="lg" style="font-size:4.66px">Survivalsvm</text>
<path d="M411.7 521.95H418.7" stroke="#00BFC4" stroke-width="1.35"/>
<text x="422.7" y="523.25" class="lg" style="font-size:4.66px">GBM</text>
<path d="M411.7 530.94H418.7" stroke="#00B0F6" stroke-width="1.35"/>
<text x="422.7" y="532.24" class="lg" style="font-size:4.66px">RSF</text>
<path d="M411.7 539.93H418.7" stroke="#9590FF" stroke-width="1.35"/>
<text x="422.7" y="541.23" class="lg" style="font-size:4.66px">xgboost</text>
<path d="M411.7 548.92H418.7" stroke="#E76BF3" stroke-width="1.35"/>
<text x="422.7" y="550.22" class="lg" style="font-size:4.66px">superpc</text>
<path d="M411.7 557.91H418.7" stroke="#FF62BC" stroke-width="1.35"/>
<text x="422.7" y="559.21" class="lg" style="font-size:4.66px">plsRcox</text>
<clipPath id="cI"><rect x="473.2" y="417.2" width="161.3" height="193.8"/></clipPath>
<text x="450" y="434.6" class="pl">I</text>
<g clip-path="url(#cI)">
<polyline points="480.3,441.66 481.55,442.31 482.81,442.98 484.06,443.66 485.32,444.35 486.57,445.06 487.83,445.78 489.08,446.51 490.34,447.25 491.59,448.01 492.85,448.78 494.1,449.57 495.36,450.38 496.61,451.2 497.87,452.03 499.12,452.88 500.38,453.75 501.63,454.64 502.89,455.54 504.14,456.47 505.4,457.41 506.65,458.38 507.91,459.36 509.16,460.37 510.42,461.4 511.67,462.45 512.93,463.52 514.18,464.62 515.44,465.75 516.69,466.9 517.95,468.07 519.2,469.28 520.46,470.51 521.71,471.78 522.97,473.08 524.22,474.4 525.48,475.77 526.73,477.16 527.99,478.6 529.24,480.07 530.5,481.58 531.75,483.13 533.01,484.73 534.26,486.36 535.52,488.05 536.77,489.78 538.03,491.57 539.28,493.4 540.54,495.29 541.79,497.24 543.05,499.25 544.3,501.32 545.56,503.46 546.81,505.66 548.07,507.94 549.32,510.3 550.58,512.73 551.83,515.25 553.09,517.86 554.34,520.56 555.6,523.35 556.85,526.26 558.11,529.27 559.36,532.4 560.62,535.65 561.87,539.03 563.13,542.55 564.38,546.22 565.64,550.04 566.89,554.03 568.15,558.2 569.4,562.55 570.66,567.11 571.91,571.89 573.17,576.9 574.42,582.16 575.68,587.7 576.93,593.52 578.19,599.66 579.44,606.15 580.7,613" fill="none" stroke="#F8766D" stroke-width="1.35" stroke-linejoin="round" />
<polyline points="480.3,591.4 577,591.4" fill="none" stroke="#D89000" stroke-width="1.35" stroke-linejoin="round" />
<polyline points="543.5,499.99 544.25,501.23 545,502.5 546.9,504.5 550.7,509.3 553.6,511.2 557.4,520.8 560,524 564,530 568.3,541.2 571.4,552.6 573.4,561.9 575,566 576.5,562.9 578.6,568.1 580.7,574.3 582.7,580.5 584.3,585.6 585.8,579.4 587.9,584.6 591,590.8 594.1,597 597.6,602.3 599.8,609.3 600.5,613" fill="none" stroke="#A3A500" stroke-width="1.35" stroke-linejoin="round" />
<polyline points="530.5,481.58 531.25,482.51 532,483.44 533.1,482.9 537,487.7 539.8,491.5 542.7,498.2 545.5,502.9 548.4,504.8 550.7,509.3 553.6,511.2 554.5,515 557.4,517.9 560.3,520.8 564.1,522.7 567,528.4 568.9,535.1 570.8,541.8 573.4,555.7 576.5,561.9 579.6,569.1 581.7,573.2 583.8,574.3 586.9,579.4 590,588.7 591,593.9 593.1,574.3 595.1,584.6 596.7,597 597.6,596.6 600.5,605.1 602.6,610.8 603,613" fill="none" stroke="#39B600" stroke-width="1.35" stroke-linejoin="round" />
<polyline points="550,511.6 550.75,513.07 551.5,514.57 552.6,516.5 555.5,522.7 558.4,528.4 561.2,535.1 564.1,541.8 567,548.4 568.9,555 570.3,560.8 573.4,571.2 575.5,579.4 577.6,587.7 579.6,593.9 580.7,602.3 582.1,610.8 582.5,613" fill="none" stroke="#00BF7D" stroke-width="1.35" stroke-linejoin="round" />
<polyline points="528.5,479.19 529.25,480.08 530,480.98 533,486 536,489.5 540,493 545,499.8 548.8,501.7 551.7,505 554.5,511 557.4,512 560.3,516 564.1,521 566,527 568,533 571,540 574,548 576.5,556 578.9,555 580.3,552.3 581.2,547.4 582.7,541.2 585.3,545.3 588,540.7 590.6,544.2 593.4,548.5 596.2,554.2 599.1,559.8 601.2,563.3 603.3,557.7 605.4,566.2 607.5,561.2 610.4,567.6 612.5,575.4 613.9,586.7 615.3,599.4 616,610.8 616.2,613" fill="none" stroke="#00BFC4" stroke-width="1.35" stroke-linejoin="round" />
<polyline points="510.5,461.46 511.25,462.09 512,462.72 515,464.3 516.9,468.6 519.8,471.5 521.7,476.2 524.5,478.1 527.4,480 530.3,482.9 533.1,485.8 536,488.6 538.9,490.5 540.8,491.5 542.7,496.3 544.6,494.4 546.5,495.3 548.8,499.8 551.7,502.6 554.5,510.3 557.4,509.3 560.3,514.1 564.1,518.9 566,525.5 567.9,531.3 570.8,538.9 572.4,543.3 575.5,549.5 577.6,556.7 579.6,553.6 581.7,558.8 584.8,565 587.9,571.2 591,577.4 594.1,583.6 594.8,585.3 597.6,586.7 599.8,580.3 601.9,588.1 604,593.8 606.1,599.4 609,606.5 610.4,610.8 611,613" fill="none" stroke="#00B0F6" stroke-width="1.35" stroke-linejoin="round" />
<polyline points="553.5,518.73 554.25,520.35 555,522.01 557.4,523.6 560.3,521.7 563.1,523.6 565,531.3 567,536 568.9,539.8 570.8,540.8 572.7,546.5 574.6,549.4 576.5,558.8 578.6,565 581.7,569.1 584.8,574.3 587.9,579.4 591,584.6 594.1,588.7 597.2,595 597.6,593.8 600.5,595.9 603.3,596.6 606.1,602.3 609,609.3 609.5,613" fill="none" stroke="#9590FF" stroke-width="1.35" stroke-linejoin="round" />
<polyline points="480.3,441.66 483.42,443.31 486.55,445.04 489.67,446.85 492.79,448.75 495.92,450.74 499.04,452.83 502.16,455.02 505.29,457.33 508.41,459.76 511.53,462.33 514.66,465.04 517.78,467.91 520.9,470.96 524.03,474.19 527.15,477.64 530.27,481.31 533.4,485.23 536.52,489.43 539.64,493.94 542.77,498.79 545.89,504.03 549.01,509.71 552.14,515.87 555.26,522.59 558.38,529.95 561.51,538.03 564.63,546.96 567.75,556.87 570.88,567.94 574,580.37 575.5,597 576.5,591.4 623.06,591.4" fill="none" stroke="#E76BF3" stroke-width="1.35" stroke-linejoin="round" />
<polyline points="480.3,441.66 482.69,442.92 485.08,444.22 487.47,445.57 489.86,446.97 492.25,448.41 494.64,449.91 497.03,451.47 499.42,453.09 501.81,454.77 504.2,456.51 506.59,458.33 508.98,460.22 511.37,462.19 513.76,464.25 516.15,466.39 518.54,468.64 520.93,470.99 523.32,473.44 525.71,476.02 528.1,478.73 530.49,481.57 532.88,484.56 535.27,487.71 537.66,491.04 540.05,494.55 542.44,498.27 544.83,502.21 547.22,506.4 549.61,510.85 552,515.59 554.5,517 556.5,515 559.3,518.9 561.2,517.9 563.1,521.7 564.1,528.4 566,535.1 567.9,542.7 569.8,549.4 572.4,555.7 575.5,561.9 577.6,568.1 579.6,571.2 581.2,562.9 582.7,567 584.8,573.2 587.9,579.4 591,585.6 594.1,590.8 596.2,597 597.6,599.4 600.5,600.8 603.3,598 606.1,597.3 608.3,602.3 610.4,609.3 611,613" fill="none" stroke="#FF62BC" stroke-width="1.35" stroke-linejoin="round" />
</g>
<g style="font-size:6.22px">
<path d="M473.5 422.2V611.5H629.5" class="ax"/>
<path d="M471.5 591.4H473.5" class="tk"/>
<text x="471" y="593.3" class="tl" text-anchor="end">0.0</text>
<path d="M471.5 546.5H473.5" class="tk"/>
<text x="471" y="548.4" class="tl" text-anchor="end">0.2</text>
<path d="M471.5 501.6H473.5" class="tk"/>
<text x="471" y="503.5" class="tl" text-anchor="end">0.4</text>
<path d="M471.5 456.7H473.5" class="tk"/>
<text x="471" y="458.6" class="tl" text-anchor="end">0.6</text>
<path d="M480.3 611.5V613.5" class="tk"/>
<text x="480.3" y="617.5" class="tl" text-anchor="middle">0%</text>
<path d="M516.35 611.5V613.5" class="tk"/>
<text x="516.35" y="617.5" class="tl" text-anchor="middle">25%</text>
<path d="M552.4 611.5V613.5" class="tk"/>
<text x="552.4" y="617.5" class="tl" text-anchor="middle">50%</text>
<path d="M588.45 611.5V613.5" class="tk"/>
<text x="588.45" y="617.5" class="tl" text-anchor="middle">75%</text>
<path d="M624.5 611.5V613.5" class="tk"/>
<text x="624.5" y="617.5" class="tl" text-anchor="middle">100%</text>
<text x="551.35" y="624.7" class="at" text-anchor="middle">Threshold Probability</text>
<text x="460.4" y="516.6" class="at" text-anchor="middle" transform="rotate(-90 460.4 516.6)">Net Benefit</text>
</g>
<path d="M639.8 475.1H646.8" stroke="#F8766D" stroke-width="1.35"/>
<text x="650.8" y="476.4" class="lg" style="font-size:4.76px">Treat All</text>
<path d="M639.8 484.27H646.8" stroke="#D89000" stroke-width="1.35"/>
<text x="650.8" y="485.57" class="lg" style="font-size:4.76px">Treat None</text>
<path d="M639.8 493.44H646.8" stroke="#A3A500" stroke-width="1.35"/>
<text x="650.8" y="494.74" class="lg" style="font-size:4.76px">Lasso_Cox</text>
<path d="M639.8 502.61H646.8" stroke="#39B600" stroke-width="1.35"/>
<text x="650.8" y="503.91" class="lg" style="font-size:4.76px">Coxboost</text>
<path d="M639.8 511.78H646.8" stroke="#00BF7D" stroke-width="1.35"/>
<text x="650.8" y="513.08" class="lg" style="font-size:4.76px">Survivalsvm</text>
<path d="M639.8 520.95H646.8" stroke="#00BFC4" stroke-width="1.35"/>
<text x="650.8" y="522.25" class="lg" style="font-size:4.76px">GBM</text>
<path d="M639.8 530.12H646.8" stroke="#00B0F6" stroke-width="1.35"/>
<text x="650.8" y="531.42" class="lg" style="font-size:4.76px">RSF</text>
<path d="M639.8 539.29H646.8" stroke="#9590FF" stroke-width="1.35"/>
<text x="650.8" y="540.59" class="lg" style="font-size:4.76px">xgboost</text>
<path d="M639.8 548.46H646.8" stroke="#E76BF3" stroke-width="1.35"/>
<text x="650.8" y="549.76" class="lg" style="font-size:4.76px">superpc</text>
<path d="M639.8 557.63H646.8" stroke="#FF62BC" stroke-width="1.35"/>
<text x="650.8" y="558.93" class="lg" style="font-size:4.76px">plsRcox</text>
</svg>
</body></html>
